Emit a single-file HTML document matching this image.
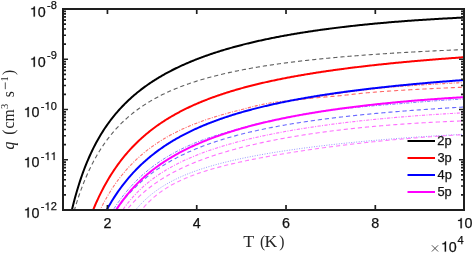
<!DOCTYPE html>
<html><head><meta charset="utf-8"><style>
html,body{margin:0;padding:0;background:#fff;}
body{width:473px;height:253px;overflow:hidden;}
svg{display:block;will-change:transform;}
.t{font-family:"Liberation Sans",sans-serif;fill:#111;stroke:#111;stroke-width:0.25px;}
.s{font-family:"Liberation Serif",serif;fill:#262626;}
</style></head><body>
<svg width="473" height="253" viewBox="0 0 473 253">
<defs><clipPath id="c"><rect x="63" y="9" width="401" height="201"/></clipPath></defs>
<rect width="473" height="253" fill="#fff"/>
<g clip-path="url(#c)" stroke-linecap="butt" stroke-linejoin="round">
<path d="M110.00,257.22 L111.00,254.50 L112.00,251.87 L113.00,249.33 L114.00,246.89 L115.00,244.54 L116.00,242.26 L117.00,240.07 L118.00,237.95 L119.00,235.90 L120.00,233.92 L121.00,232.00 L122.00,230.15 L123.00,228.36 L124.00,226.62 L125.00,224.94 L126.00,223.31 L127.00,221.74 L128.00,220.21 L129.00,218.72 L130.00,217.28 L131.00,215.89 L132.00,214.53 L133.00,213.21 L134.00,211.93 L135.00,210.69 L136.00,209.48 L137.00,208.31 L138.00,207.16 L139.00,206.05 L140.00,204.97 L141.00,203.92 L142.00,202.89 L143.00,201.89 L144.00,200.92 L145.00,199.97 L146.00,199.04 L147.00,198.14 L148.00,197.26 L149.00,196.40 L150.00,195.56 L151.00,194.74 L152.00,193.94 L153.00,193.15 L154.00,192.39 L155.00,191.64 L156.00,190.91 L157.00,190.20 L158.00,189.50 L159.00,188.82 L160.00,188.15 L161.00,187.49 L162.00,186.85 L163.00,186.22 L164.00,185.61 L165.00,185.01 L166.00,184.41 L167.00,183.84 L168.00,183.27 L169.00,182.71 L170.00,182.16 L171.00,181.63 L172.00,181.10 L173.00,180.59 L174.00,180.08 L175.00,179.58 L176.00,179.09 L177.00,178.61 L178.00,178.14 L179.00,177.68 L180.00,177.22 L181.00,176.77 L182.00,176.33 L183.00,175.90 L184.00,175.47 L185.00,175.05 L186.00,174.64 L187.00,174.23 L188.00,173.83 L189.00,173.43 L190.00,173.05 L191.00,172.66 L192.00,172.29 L193.00,171.92 L194.00,171.55 L195.00,171.19 L196.00,170.83 L197.00,170.48 L198.00,170.14 L199.00,169.80 L200.00,169.46 L201.00,169.13 L202.00,168.80 L203.00,168.48 L204.00,168.16 L205.00,167.84 L206.00,167.53 L207.00,167.23 L208.00,166.92 L209.00,166.62 L210.00,166.33 L211.00,166.04 L212.00,165.75 L213.00,165.46 L214.00,165.18 L215.00,164.90 L216.00,164.63 L217.00,164.36 L218.00,164.09 L219.00,163.82 L220.00,163.56 L221.00,163.30 L222.00,163.04 L223.00,162.78 L224.00,162.53 L225.00,162.28 L226.00,162.04 L227.00,161.79 L228.00,161.55 L229.00,161.31 L230.00,161.07 L231.00,160.84 L232.00,160.61 L233.00,160.38 L234.00,160.15 L235.00,159.92 L236.00,159.70 L237.00,159.48 L238.00,159.26 L239.00,159.04 L240.00,158.83 L241.00,158.62 L242.00,158.40 L243.00,158.19 L244.00,157.99 L245.00,157.78 L246.00,157.58 L247.00,157.37 L248.00,157.17 L249.00,156.98 L250.00,156.78 L251.00,156.58 L252.00,156.39 L253.00,156.20 L254.00,156.01 L255.00,155.82 L256.00,155.63 L257.00,155.44 L258.00,155.26 L259.00,155.08 L260.00,154.89 L261.00,154.71 L262.00,154.54 L263.00,154.36 L264.00,154.18 L265.00,154.01 L266.00,153.83 L267.00,153.66 L268.00,153.49 L269.00,153.32 L270.00,153.15 L271.00,152.99 L272.00,152.82 L273.00,152.65 L274.00,152.49 L275.00,152.33 L276.00,152.17 L277.00,152.01 L278.00,151.85 L279.00,151.69 L280.00,151.53 L281.00,151.38 L282.00,151.22 L283.00,151.07 L284.00,150.92 L285.00,150.77 L286.00,150.62 L287.00,150.47 L288.00,150.32 L289.00,150.17 L290.00,150.02 L291.00,149.88 L292.00,149.73 L293.00,149.59 L294.00,149.45 L295.00,149.31 L296.00,149.17 L297.00,149.03 L298.00,148.89 L299.00,148.75 L300.00,148.61 L301.00,148.47 L302.00,148.34 L303.00,148.20 L304.00,148.07 L305.00,147.94 L306.00,147.81 L307.00,147.67 L308.00,147.54 L309.00,147.41 L310.00,147.29 L311.00,147.16 L312.00,147.03 L313.00,146.90 L314.00,146.78 L315.00,146.65 L316.00,146.53 L317.00,146.40 L318.00,146.28 L319.00,146.16 L320.00,146.04 L321.00,145.92 L322.00,145.80 L323.00,145.68 L324.00,145.56 L325.00,145.44 L326.00,145.33 L327.00,145.21 L328.00,145.09 L329.00,144.98 L330.00,144.86 L331.00,144.75 L332.00,144.64 L333.00,144.53 L334.00,144.41 L335.00,144.30 L336.00,144.19 L337.00,144.08 L338.00,143.97 L339.00,143.87 L340.00,143.76 L341.00,143.65 L342.00,143.54 L343.00,143.44 L344.00,143.33 L345.00,143.23 L346.00,143.12 L347.00,143.02 L348.00,142.92 L349.00,142.81 L350.00,142.71 L351.00,142.61 L352.00,142.51 L353.00,142.41 L354.00,142.31 L355.00,142.21 L356.00,142.11 L357.00,142.02 L358.00,141.92 L359.00,141.82 L360.00,141.73 L361.00,141.63 L362.00,141.54 L363.00,141.44 L364.00,141.35 L365.00,141.25 L366.00,141.16 L367.00,141.07 L368.00,140.98 L369.00,140.88 L370.00,140.79 L371.00,140.70 L372.00,140.61 L373.00,140.52 L374.00,140.44 L375.00,140.35 L376.00,140.26 L377.00,140.17 L378.00,140.09 L379.00,140.00 L380.00,139.91 L381.00,139.83 L382.00,139.74 L383.00,139.66 L384.00,139.58 L385.00,139.49 L386.00,139.41 L387.00,139.33 L388.00,139.25 L389.00,139.16 L390.00,139.08 L391.00,139.00 L392.00,138.92 L393.00,138.84 L394.00,138.77 L395.00,138.69 L396.00,138.61 L397.00,138.53 L398.00,138.45 L399.00,138.38 L400.00,138.30 L401.00,138.22 L402.00,138.15 L403.00,138.07 L404.00,138.00 L405.00,137.93 L406.00,137.85 L407.00,137.78 L408.00,137.71 L409.00,137.63 L410.00,137.56 L411.00,137.49 L412.00,137.42 L413.00,137.35 L414.00,137.28 L415.00,137.21 L416.00,137.14 L417.00,137.07 L418.00,137.00 L419.00,136.93 L420.00,136.87 L421.00,136.80 L422.00,136.73 L423.00,136.67 L424.00,136.60 L425.00,136.53 L426.00,136.47 L427.00,136.40 L428.00,136.34 L429.00,136.28 L430.00,136.21 L431.00,136.15 L432.00,136.09 L433.00,136.02 L434.00,135.96 L435.00,135.90 L436.00,135.84 L437.00,135.78 L438.00,135.72 L439.00,135.66 L440.00,135.60 L441.00,135.54 L442.00,135.48 L443.00,135.42 L444.00,135.36 L445.00,135.30 L446.00,135.25 L447.00,135.19 L448.00,135.13 L449.00,135.08 L450.00,135.02 L451.00,134.96 L452.00,134.91 L453.00,134.85 L454.00,134.80 L455.00,134.75 L456.00,134.69 L457.00,134.64 L458.00,134.59 L459.00,134.53 L460.00,134.48 L461.00,134.43 L462.00,134.38 L463.00,134.33 L464.00,134.28 L465.00,134.22 L466.00,134.17" stroke="#9a9aff" stroke-width="1.0" fill="none" stroke-dasharray="1 1.5"/>
<path d="M117.00,257.40 L118.00,254.51 L119.00,251.74 L120.00,249.07 L121.00,246.50 L122.00,244.03 L123.00,241.65 L124.00,239.36 L125.00,237.15 L126.00,235.02 L127.00,232.97 L128.00,231.00 L129.00,229.09 L130.00,227.25 L131.00,225.47 L132.00,223.76 L133.00,222.10 L134.00,220.50 L135.00,218.95 L136.00,217.45 L137.00,216.00 L138.00,214.60 L139.00,213.24 L140.00,211.93 L141.00,210.65 L142.00,209.42 L143.00,208.22 L144.00,207.06 L145.00,205.94 L146.00,204.85 L147.00,203.79 L148.00,202.76 L149.00,201.76 L150.00,200.79 L151.00,199.84 L152.00,198.93 L153.00,198.03 L154.00,197.17 L155.00,196.32 L156.00,195.50 L157.00,194.70 L158.00,193.92 L159.00,193.16 L160.00,192.42 L161.00,191.69 L162.00,190.99 L163.00,190.30 L164.00,189.63 L165.00,188.98 L166.00,188.34 L167.00,187.71 L168.00,187.10 L169.00,186.50 L170.00,185.92 L171.00,185.35 L172.00,184.79 L173.00,184.24 L174.00,183.71 L175.00,183.18 L176.00,182.67 L177.00,182.17 L178.00,181.67 L179.00,181.19 L180.00,180.72 L181.00,180.25 L182.00,179.80 L183.00,179.35 L184.00,178.91 L185.00,178.48 L186.00,178.05 L187.00,177.64 L188.00,177.23 L189.00,176.83 L190.00,176.43 L191.00,176.04 L192.00,175.66 L193.00,175.28 L194.00,174.91 L195.00,174.54 L196.00,174.19 L197.00,173.83 L198.00,173.48 L199.00,173.14 L200.00,172.80 L201.00,172.47 L202.00,172.14 L203.00,171.81 L204.00,171.49 L205.00,171.17 L206.00,170.86 L207.00,170.55 L208.00,170.25 L209.00,169.95 L210.00,169.65 L211.00,169.36 L212.00,169.07 L213.00,168.78 L214.00,168.50 L215.00,168.22 L216.00,167.94 L217.00,167.67 L218.00,167.40 L219.00,167.13 L220.00,166.87 L221.00,166.60 L222.00,166.34 L223.00,166.09 L224.00,165.83 L225.00,165.58 L226.00,165.33 L227.00,165.08 L228.00,164.84 L229.00,164.60 L230.00,164.36 L231.00,164.12 L232.00,163.88 L233.00,163.65 L234.00,163.42 L235.00,163.19 L236.00,162.96 L237.00,162.73 L238.00,162.51 L239.00,162.29 L240.00,162.06 L241.00,161.85 L242.00,161.63 L243.00,161.41 L244.00,161.20 L245.00,160.99 L246.00,160.78 L247.00,160.57 L248.00,160.36 L249.00,160.15 L250.00,159.95 L251.00,159.74 L252.00,159.54 L253.00,159.34 L254.00,159.14 L255.00,158.94 L256.00,158.75 L257.00,158.55 L258.00,158.36 L259.00,158.16 L260.00,157.97 L261.00,157.78 L262.00,157.59 L263.00,157.40 L264.00,157.22 L265.00,157.03 L266.00,156.85 L267.00,156.66 L268.00,156.48 L269.00,156.30 L270.00,156.12 L271.00,155.94 L272.00,155.76 L273.00,155.58 L274.00,155.41 L275.00,155.23 L276.00,155.06 L277.00,154.88 L278.00,154.71 L279.00,154.54 L280.00,154.37 L281.00,154.20 L282.00,154.03 L283.00,153.86 L284.00,153.70 L285.00,153.53 L286.00,153.36 L287.00,153.20 L288.00,153.04 L289.00,152.87 L290.00,152.71 L291.00,152.55 L292.00,152.39 L293.00,152.23 L294.00,152.07 L295.00,151.92 L296.00,151.76 L297.00,151.60 L298.00,151.45 L299.00,151.29 L300.00,151.14 L301.00,150.99 L302.00,150.84 L303.00,150.69 L304.00,150.53 L305.00,150.39 L306.00,150.24 L307.00,150.09 L308.00,149.94 L309.00,149.79 L310.00,149.65 L311.00,149.50 L312.00,149.36 L313.00,149.21 L314.00,149.07 L315.00,148.93 L316.00,148.79 L317.00,148.65 L318.00,148.51 L319.00,148.37 L320.00,148.23 L321.00,148.09 L322.00,147.95 L323.00,147.81 L324.00,147.68 L325.00,147.54 L326.00,147.41 L327.00,147.27 L328.00,147.14 L329.00,147.01 L330.00,146.88 L331.00,146.75 L332.00,146.61 L333.00,146.48 L334.00,146.35 L335.00,146.23 L336.00,146.10 L337.00,145.97 L338.00,145.84 L339.00,145.72 L340.00,145.59 L341.00,145.47 L342.00,145.34 L343.00,145.22 L344.00,145.10 L345.00,144.97 L346.00,144.85 L347.00,144.73 L348.00,144.61 L349.00,144.49 L350.00,144.37 L351.00,144.25 L352.00,144.14 L353.00,144.02 L354.00,143.90 L355.00,143.79 L356.00,143.67 L357.00,143.56 L358.00,143.44 L359.00,143.33 L360.00,143.21 L361.00,143.10 L362.00,142.99 L363.00,142.88 L364.00,142.77 L365.00,142.66 L366.00,142.55 L367.00,142.44 L368.00,142.33 L369.00,142.23 L370.00,142.12 L371.00,142.01 L372.00,141.91 L373.00,141.80 L374.00,141.70 L375.00,141.59 L376.00,141.49 L377.00,141.39 L378.00,141.29 L379.00,141.18 L380.00,141.08 L381.00,140.98 L382.00,140.88 L383.00,140.78 L384.00,140.68 L385.00,140.59 L386.00,140.49 L387.00,140.39 L388.00,140.30 L389.00,140.20 L390.00,140.11 L391.00,140.01 L392.00,139.92 L393.00,139.82 L394.00,139.73 L395.00,139.64 L396.00,139.55 L397.00,139.46 L398.00,139.37 L399.00,139.28 L400.00,139.19 L401.00,139.10 L402.00,139.01 L403.00,138.92 L404.00,138.84 L405.00,138.75 L406.00,138.66 L407.00,138.58 L408.00,138.49 L409.00,138.41 L410.00,138.33 L411.00,138.24 L412.00,138.16 L413.00,138.08 L414.00,138.00 L415.00,137.92 L416.00,137.84 L417.00,137.76 L418.00,137.68 L419.00,137.60 L420.00,137.52 L421.00,137.44 L422.00,137.37 L423.00,137.29 L424.00,137.21 L425.00,137.14 L426.00,137.06 L427.00,136.99 L428.00,136.92 L429.00,136.84 L430.00,136.77 L431.00,136.70 L432.00,136.63 L433.00,136.56 L434.00,136.49 L435.00,136.42 L436.00,136.35 L437.00,136.28 L438.00,136.21 L439.00,136.14 L440.00,136.08 L441.00,136.01 L442.00,135.94 L443.00,135.88 L444.00,135.81 L445.00,135.75 L446.00,135.69 L447.00,135.62 L448.00,135.56 L449.00,135.50 L450.00,135.44 L451.00,135.38 L452.00,135.32 L453.00,135.26 L454.00,135.20 L455.00,135.14 L456.00,135.08 L457.00,135.02 L458.00,134.96 L459.00,134.91 L460.00,134.85 L461.00,134.80 L462.00,134.74 L463.00,134.69 L464.00,134.63 L465.00,134.58 L466.00,134.52" stroke="#ff80ff" stroke-width="1.1" fill="none" stroke-dasharray="4.2 2.9"/>
<path d="M101.00,257.42 L102.00,254.76 L103.00,252.19 L104.00,249.71 L105.00,247.32 L106.00,245.01 L107.00,242.77 L108.00,240.60 L109.00,238.51 L110.00,236.48 L111.00,234.51 L112.00,232.60 L113.00,230.75 L114.00,228.95 L115.00,227.21 L116.00,225.52 L117.00,223.87 L118.00,222.27 L119.00,220.72 L120.00,219.20 L121.00,217.73 L122.00,216.30 L123.00,214.90 L124.00,213.54 L125.00,212.21 L126.00,210.92 L127.00,209.66 L128.00,208.43 L129.00,207.23 L130.00,206.05 L131.00,204.91 L132.00,203.79 L133.00,202.69 L134.00,201.62 L135.00,200.58 L136.00,199.55 L137.00,198.55 L138.00,197.57 L139.00,196.61 L140.00,195.67 L141.00,194.75 L142.00,193.85 L143.00,192.96 L144.00,192.10 L145.00,191.25 L146.00,190.41 L147.00,189.59 L148.00,188.79 L149.00,188.00 L150.00,187.23 L151.00,186.47 L152.00,185.72 L153.00,184.99 L154.00,184.27 L155.00,183.56 L156.00,182.86 L157.00,182.18 L158.00,181.50 L159.00,180.84 L160.00,180.19 L161.00,179.55 L162.00,178.91 L163.00,178.29 L164.00,177.68 L165.00,177.08 L166.00,176.48 L167.00,175.90 L168.00,175.32 L169.00,174.75 L170.00,174.19 L171.00,173.64 L172.00,173.10 L173.00,172.56 L174.00,172.03 L175.00,171.51 L176.00,171.00 L177.00,170.49 L178.00,169.99 L179.00,169.50 L180.00,169.01 L181.00,168.53 L182.00,168.05 L183.00,167.58 L184.00,167.12 L185.00,166.66 L186.00,166.21 L187.00,165.76 L188.00,165.32 L189.00,164.89 L190.00,164.46 L191.00,164.03 L192.00,163.61 L193.00,163.20 L194.00,162.78 L195.00,162.38 L196.00,161.98 L197.00,161.58 L198.00,161.19 L199.00,160.80 L200.00,160.42 L201.00,160.04 L202.00,159.66 L203.00,159.29 L204.00,158.92 L205.00,158.56 L206.00,158.20 L207.00,157.84 L208.00,157.49 L209.00,157.14 L210.00,156.79 L211.00,156.45 L212.00,156.11 L213.00,155.78 L214.00,155.45 L215.00,155.12 L216.00,154.79 L217.00,154.47 L218.00,154.15 L219.00,153.84 L220.00,153.52 L221.00,153.21 L222.00,152.91 L223.00,152.60 L224.00,152.30 L225.00,152.00 L226.00,151.71 L227.00,151.42 L228.00,151.13 L229.00,150.84 L230.00,150.55 L231.00,150.27 L232.00,149.99 L233.00,149.71 L234.00,149.44 L235.00,149.17 L236.00,148.90 L237.00,148.63 L238.00,148.36 L239.00,148.10 L240.00,147.84 L241.00,147.58 L242.00,147.33 L243.00,147.07 L244.00,146.82 L245.00,146.57 L246.00,146.32 L247.00,146.08 L248.00,145.83 L249.00,145.59 L250.00,145.35 L251.00,145.11 L252.00,144.88 L253.00,144.65 L254.00,144.41 L255.00,144.18 L256.00,143.96 L257.00,143.73 L258.00,143.51 L259.00,143.28 L260.00,143.06 L261.00,142.84 L262.00,142.63 L263.00,142.41 L264.00,142.20 L265.00,141.99 L266.00,141.78 L267.00,141.57 L268.00,141.36 L269.00,141.15 L270.00,140.95 L271.00,140.75 L272.00,140.55 L273.00,140.35 L274.00,140.15 L275.00,139.96 L276.00,139.76 L277.00,139.57 L278.00,139.38 L279.00,139.19 L280.00,139.00 L281.00,138.81 L282.00,138.63 L283.00,138.44 L284.00,138.26 L285.00,138.08 L286.00,137.90 L287.00,137.72 L288.00,137.54 L289.00,137.37 L290.00,137.19 L291.00,137.02 L292.00,136.85 L293.00,136.68 L294.00,136.51 L295.00,136.34 L296.00,136.17 L297.00,136.01 L298.00,135.84 L299.00,135.68 L300.00,135.52 L301.00,135.36 L302.00,135.20 L303.00,135.04 L304.00,134.88 L305.00,134.73 L306.00,134.57 L307.00,134.42 L308.00,134.27 L309.00,134.12 L310.00,133.97 L311.00,133.82 L312.00,133.67 L313.00,133.52 L314.00,133.38 L315.00,133.23 L316.00,133.09 L317.00,132.95 L318.00,132.81 L319.00,132.67 L320.00,132.53 L321.00,132.39 L322.00,132.25 L323.00,132.12 L324.00,131.98 L325.00,131.85 L326.00,131.72 L327.00,131.58 L328.00,131.45 L329.00,131.32 L330.00,131.19 L331.00,131.07 L332.00,130.94 L333.00,130.81 L334.00,130.69 L335.00,130.56 L336.00,130.44 L337.00,130.32 L338.00,130.20 L339.00,130.08 L340.00,129.96 L341.00,129.84 L342.00,129.72 L343.00,129.61 L344.00,129.49 L345.00,129.38 L346.00,129.26 L347.00,129.15 L348.00,129.04 L349.00,128.93 L350.00,128.81 L351.00,128.70 L352.00,128.60 L353.00,128.49 L354.00,128.38 L355.00,128.28 L356.00,128.17 L357.00,128.07 L358.00,127.96 L359.00,127.86 L360.00,127.76 L361.00,127.66 L362.00,127.55 L363.00,127.46 L364.00,127.36 L365.00,127.26 L366.00,127.16 L367.00,127.06 L368.00,126.97 L369.00,126.87 L370.00,126.78 L371.00,126.69 L372.00,126.59 L373.00,126.50 L374.00,126.41 L375.00,126.32 L376.00,126.23 L377.00,126.14 L378.00,126.05 L379.00,125.97 L380.00,125.88 L381.00,125.79 L382.00,125.71 L383.00,125.62 L384.00,125.54 L385.00,125.46 L386.00,125.37 L387.00,125.29 L388.00,125.21 L389.00,125.13 L390.00,125.05 L391.00,124.97 L392.00,124.90 L393.00,124.82 L394.00,124.74 L395.00,124.66 L396.00,124.59 L397.00,124.51 L398.00,124.44 L399.00,124.37 L400.00,124.29 L401.00,124.22 L402.00,124.15 L403.00,124.08 L404.00,124.01 L405.00,123.94 L406.00,123.87 L407.00,123.80 L408.00,123.74 L409.00,123.67 L410.00,123.60 L411.00,123.54 L412.00,123.47 L413.00,123.41 L414.00,123.34 L415.00,123.28 L416.00,123.22 L417.00,123.16 L418.00,123.09 L419.00,123.03 L420.00,122.97 L421.00,122.91 L422.00,122.85 L423.00,122.80 L424.00,122.74 L425.00,122.68 L426.00,122.62 L427.00,122.57 L428.00,122.51 L429.00,122.46 L430.00,122.40 L431.00,122.35 L432.00,122.30 L433.00,122.24 L434.00,122.19 L435.00,122.14 L436.00,122.09 L437.00,122.04 L438.00,121.99 L439.00,121.94 L440.00,121.89 L441.00,121.84 L442.00,121.80 L443.00,121.75 L444.00,121.70 L445.00,121.66 L446.00,121.61 L447.00,121.57 L448.00,121.52 L449.00,121.48 L450.00,121.43 L451.00,121.39 L452.00,121.35 L453.00,121.31 L454.00,121.27 L455.00,121.23 L456.00,121.19 L457.00,121.15 L458.00,121.11 L459.00,121.07 L460.00,121.03 L461.00,120.99 L462.00,120.95 L463.00,120.92 L464.00,120.88 L465.00,120.85 L466.00,120.81" stroke="#ff70ff" stroke-width="1.1" fill="none" stroke-dasharray="4.2 2.9"/>
<path d="M99.00,259.43 L100.00,256.48 L101.00,253.62 L102.00,250.87 L103.00,248.21 L104.00,245.65 L105.00,243.17 L106.00,240.77 L107.00,238.45 L108.00,236.21 L109.00,234.03 L110.00,231.93 L111.00,229.89 L112.00,227.91 L113.00,225.99 L114.00,224.13 L115.00,222.32 L116.00,220.57 L117.00,218.86 L118.00,217.21 L119.00,215.60 L120.00,214.03 L121.00,212.50 L122.00,211.02 L123.00,209.57 L124.00,208.16 L125.00,206.79 L126.00,205.45 L127.00,204.14 L128.00,202.87 L129.00,201.63 L130.00,200.42 L131.00,199.23 L132.00,198.08 L133.00,196.95 L134.00,195.84 L135.00,194.76 L136.00,193.71 L137.00,192.67 L138.00,191.66 L139.00,190.67 L140.00,189.71 L141.00,188.76 L142.00,187.83 L143.00,186.92 L144.00,186.03 L145.00,185.15 L146.00,184.30 L147.00,183.46 L148.00,182.63 L149.00,181.82 L150.00,181.03 L151.00,180.25 L152.00,179.49 L153.00,178.74 L154.00,178.00 L155.00,177.27 L156.00,176.56 L157.00,175.86 L158.00,175.17 L159.00,174.50 L160.00,173.83 L161.00,173.18 L162.00,172.54 L163.00,171.90 L164.00,171.28 L165.00,170.67 L166.00,170.06 L167.00,169.47 L168.00,168.88 L169.00,168.31 L170.00,167.74 L171.00,167.18 L172.00,166.63 L173.00,166.08 L174.00,165.55 L175.00,165.02 L176.00,164.50 L177.00,163.99 L178.00,163.48 L179.00,162.98 L180.00,162.49 L181.00,162.00 L182.00,161.52 L183.00,161.05 L184.00,160.58 L185.00,160.12 L186.00,159.67 L187.00,159.22 L188.00,158.78 L189.00,158.34 L190.00,157.90 L191.00,157.48 L192.00,157.05 L193.00,156.64 L194.00,156.23 L195.00,155.82 L196.00,155.42 L197.00,155.02 L198.00,154.62 L199.00,154.23 L200.00,153.85 L201.00,153.47 L202.00,153.09 L203.00,152.72 L204.00,152.35 L205.00,151.99 L206.00,151.63 L207.00,151.28 L208.00,150.92 L209.00,150.57 L210.00,150.23 L211.00,149.89 L212.00,149.55 L213.00,149.22 L214.00,148.89 L215.00,148.56 L216.00,148.23 L217.00,147.91 L218.00,147.59 L219.00,147.28 L220.00,146.97 L221.00,146.66 L222.00,146.35 L223.00,146.05 L224.00,145.75 L225.00,145.45 L226.00,145.16 L227.00,144.87 L228.00,144.58 L229.00,144.29 L230.00,144.01 L231.00,143.73 L232.00,143.45 L233.00,143.17 L234.00,142.90 L235.00,142.63 L236.00,142.36 L237.00,142.09 L238.00,141.83 L239.00,141.57 L240.00,141.31 L241.00,141.05 L242.00,140.80 L243.00,140.54 L244.00,140.29 L245.00,140.05 L246.00,139.80 L247.00,139.55 L248.00,139.31 L249.00,139.07 L250.00,138.83 L251.00,138.60 L252.00,138.36 L253.00,138.13 L254.00,137.90 L255.00,137.67 L256.00,137.44 L257.00,137.22 L258.00,136.99 L259.00,136.77 L260.00,136.55 L261.00,136.33 L262.00,136.12 L263.00,135.90 L264.00,135.69 L265.00,135.48 L266.00,135.27 L267.00,135.06 L268.00,134.85 L269.00,134.65 L270.00,134.44 L271.00,134.24 L272.00,134.04 L273.00,133.84 L274.00,133.64 L275.00,133.45 L276.00,133.25 L277.00,133.06 L278.00,132.87 L279.00,132.68 L280.00,132.49 L281.00,132.30 L282.00,132.12 L283.00,131.93 L284.00,131.75 L285.00,131.56 L286.00,131.38 L287.00,131.20 L288.00,131.03 L289.00,130.85 L290.00,130.67 L291.00,130.50 L292.00,130.32 L293.00,130.15 L294.00,129.98 L295.00,129.81 L296.00,129.64 L297.00,129.48 L298.00,129.31 L299.00,129.14 L300.00,128.98 L301.00,128.82 L302.00,128.66 L303.00,128.50 L304.00,128.34 L305.00,128.18 L306.00,128.02 L307.00,127.86 L308.00,127.71 L309.00,127.55 L310.00,127.40 L311.00,127.25 L312.00,127.10 L313.00,126.95 L314.00,126.80 L315.00,126.65 L316.00,126.51 L317.00,126.36 L318.00,126.21 L319.00,126.07 L320.00,125.93 L321.00,125.79 L322.00,125.64 L323.00,125.50 L324.00,125.37 L325.00,125.23 L326.00,125.09 L327.00,124.95 L328.00,124.82 L329.00,124.68 L330.00,124.55 L331.00,124.42 L332.00,124.28 L333.00,124.15 L334.00,124.02 L335.00,123.89 L336.00,123.77 L337.00,123.64 L338.00,123.51 L339.00,123.39 L340.00,123.26 L341.00,123.14 L342.00,123.01 L343.00,122.89 L344.00,122.77 L345.00,122.65 L346.00,122.53 L347.00,122.41 L348.00,122.29 L349.00,122.17 L350.00,122.05 L351.00,121.94 L352.00,121.82 L353.00,121.71 L354.00,121.59 L355.00,121.48 L356.00,121.37 L357.00,121.25 L358.00,121.14 L359.00,121.03 L360.00,120.92 L361.00,120.81 L362.00,120.71 L363.00,120.60 L364.00,120.49 L365.00,120.39 L366.00,120.28 L367.00,120.18 L368.00,120.07 L369.00,119.97 L370.00,119.87 L371.00,119.76 L372.00,119.66 L373.00,119.56 L374.00,119.46 L375.00,119.36 L376.00,119.26 L377.00,119.16 L378.00,119.07 L379.00,118.97 L380.00,118.87 L381.00,118.78 L382.00,118.68 L383.00,118.59 L384.00,118.50 L385.00,118.40 L386.00,118.31 L387.00,118.22 L388.00,118.13 L389.00,118.04 L390.00,117.95 L391.00,117.86 L392.00,117.77 L393.00,117.68 L394.00,117.59 L395.00,117.51 L396.00,117.42 L397.00,117.33 L398.00,117.25 L399.00,117.16 L400.00,117.08 L401.00,117.00 L402.00,116.91 L403.00,116.83 L404.00,116.75 L405.00,116.67 L406.00,116.59 L407.00,116.51 L408.00,116.43 L409.00,116.35 L410.00,116.27 L411.00,116.19 L412.00,116.12 L413.00,116.04 L414.00,115.96 L415.00,115.89 L416.00,115.81 L417.00,115.74 L418.00,115.66 L419.00,115.59 L420.00,115.51 L421.00,115.44 L422.00,115.37 L423.00,115.30 L424.00,115.23 L425.00,115.16 L426.00,115.09 L427.00,115.02 L428.00,114.95 L429.00,114.88 L430.00,114.81 L431.00,114.74 L432.00,114.68 L433.00,114.61 L434.00,114.54 L435.00,114.48 L436.00,114.41 L437.00,114.35 L438.00,114.28 L439.00,114.22 L440.00,114.15 L441.00,114.09 L442.00,114.03 L443.00,113.97 L444.00,113.91 L445.00,113.84 L446.00,113.78 L447.00,113.72 L448.00,113.66 L449.00,113.60 L450.00,113.55 L451.00,113.49 L452.00,113.43 L453.00,113.37 L454.00,113.31 L455.00,113.26 L456.00,113.20 L457.00,113.15 L458.00,113.09 L459.00,113.04 L460.00,112.98 L461.00,112.93 L462.00,112.87 L463.00,112.82 L464.00,112.77 L465.00,112.71 L466.00,112.66" stroke="#ff70ff" stroke-width="1.1" fill="none" stroke-dasharray="3.2 1.4 1 1.4"/>
<path d="M90.00,259.82 L91.00,257.22 L92.00,254.69 L93.00,252.24 L94.00,249.84 L95.00,247.51 L96.00,245.25 L97.00,243.04 L98.00,240.88 L99.00,238.78 L100.00,236.74 L101.00,234.74 L102.00,232.79 L103.00,230.89 L104.00,229.03 L105.00,227.22 L106.00,225.45 L107.00,223.72 L108.00,222.03 L109.00,220.38 L110.00,218.76 L111.00,217.18 L112.00,215.63 L113.00,214.12 L114.00,212.64 L115.00,211.19 L116.00,209.77 L117.00,208.38 L118.00,207.02 L119.00,205.69 L120.00,204.38 L121.00,203.10 L122.00,201.84 L123.00,200.61 L124.00,199.40 L125.00,198.22 L126.00,197.06 L127.00,195.92 L128.00,194.80 L129.00,193.70 L130.00,192.62 L131.00,191.56 L132.00,190.53 L133.00,189.50 L134.00,188.50 L135.00,187.52 L136.00,186.55 L137.00,185.60 L138.00,184.66 L139.00,183.74 L140.00,182.84 L141.00,181.95 L142.00,181.08 L143.00,180.22 L144.00,179.38 L145.00,178.54 L146.00,177.73 L147.00,176.92 L148.00,176.13 L149.00,175.35 L150.00,174.58 L151.00,173.83 L152.00,173.08 L153.00,172.35 L154.00,171.63 L155.00,170.92 L156.00,170.22 L157.00,169.53 L158.00,168.85 L159.00,168.18 L160.00,167.52 L161.00,166.87 L162.00,166.23 L163.00,165.60 L164.00,164.98 L165.00,164.36 L166.00,163.76 L167.00,163.16 L168.00,162.57 L169.00,161.99 L170.00,161.42 L171.00,160.85 L172.00,160.29 L173.00,159.74 L174.00,159.20 L175.00,158.67 L176.00,158.14 L177.00,157.62 L178.00,157.10 L179.00,156.59 L180.00,156.09 L181.00,155.60 L182.00,155.11 L183.00,154.63 L184.00,154.15 L185.00,153.68 L186.00,153.21 L187.00,152.75 L188.00,152.30 L189.00,151.85 L190.00,151.41 L191.00,150.97 L192.00,150.54 L193.00,150.11 L194.00,149.69 L195.00,149.27 L196.00,148.86 L197.00,148.46 L198.00,148.05 L199.00,147.66 L200.00,147.26 L201.00,146.87 L202.00,146.49 L203.00,146.11 L204.00,145.73 L205.00,145.36 L206.00,144.99 L207.00,144.63 L208.00,144.27 L209.00,143.92 L210.00,143.56 L211.00,143.22 L212.00,142.87 L213.00,142.53 L214.00,142.19 L215.00,141.86 L216.00,141.53 L217.00,141.21 L218.00,140.88 L219.00,140.56 L220.00,140.25 L221.00,139.93 L222.00,139.63 L223.00,139.32 L224.00,139.02 L225.00,138.72 L226.00,138.42 L227.00,138.12 L228.00,137.83 L229.00,137.54 L230.00,137.26 L231.00,136.98 L232.00,136.70 L233.00,136.42 L234.00,136.14 L235.00,135.87 L236.00,135.60 L237.00,135.34 L238.00,135.07 L239.00,134.81 L240.00,134.55 L241.00,134.30 L242.00,134.04 L243.00,133.79 L244.00,133.54 L245.00,133.29 L246.00,133.05 L247.00,132.81 L248.00,132.57 L249.00,132.33 L250.00,132.09 L251.00,131.86 L252.00,131.63 L253.00,131.40 L254.00,131.17 L255.00,130.94 L256.00,130.72 L257.00,130.50 L258.00,130.28 L259.00,130.06 L260.00,129.85 L261.00,129.63 L262.00,129.42 L263.00,129.21 L264.00,129.00 L265.00,128.79 L266.00,128.59 L267.00,128.39 L268.00,128.19 L269.00,127.99 L270.00,127.79 L271.00,127.59 L272.00,127.40 L273.00,127.20 L274.00,127.01 L275.00,126.82 L276.00,126.63 L277.00,126.45 L278.00,126.26 L279.00,126.08 L280.00,125.90 L281.00,125.72 L282.00,125.54 L283.00,125.36 L284.00,125.18 L285.00,125.01 L286.00,124.83 L287.00,124.66 L288.00,124.49 L289.00,124.32 L290.00,124.15 L291.00,123.99 L292.00,123.82 L293.00,123.66 L294.00,123.49 L295.00,123.33 L296.00,123.17 L297.00,123.01 L298.00,122.85 L299.00,122.70 L300.00,122.54 L301.00,122.39 L302.00,122.23 L303.00,122.08 L304.00,121.93 L305.00,121.78 L306.00,121.63 L307.00,121.48 L308.00,121.34 L309.00,121.19 L310.00,121.05 L311.00,120.90 L312.00,120.76 L313.00,120.62 L314.00,120.48 L315.00,120.34 L316.00,120.20 L317.00,120.06 L318.00,119.93 L319.00,119.79 L320.00,119.66 L321.00,119.52 L322.00,119.39 L323.00,119.26 L324.00,119.13 L325.00,119.00 L326.00,118.87 L327.00,118.74 L328.00,118.62 L329.00,118.49 L330.00,118.37 L331.00,118.24 L332.00,118.12 L333.00,117.99 L334.00,117.87 L335.00,117.75 L336.00,117.63 L337.00,117.51 L338.00,117.39 L339.00,117.28 L340.00,117.16 L341.00,117.04 L342.00,116.93 L343.00,116.81 L344.00,116.70 L345.00,116.59 L346.00,116.47 L347.00,116.36 L348.00,116.25 L349.00,116.14 L350.00,116.03 L351.00,115.92 L352.00,115.81 L353.00,115.71 L354.00,115.60 L355.00,115.49 L356.00,115.39 L357.00,115.28 L358.00,115.18 L359.00,115.08 L360.00,114.97 L361.00,114.87 L362.00,114.77 L363.00,114.67 L364.00,114.57 L365.00,114.47 L366.00,114.37 L367.00,114.27 L368.00,114.18 L369.00,114.08 L370.00,113.98 L371.00,113.89 L372.00,113.79 L373.00,113.70 L374.00,113.60 L375.00,113.51 L376.00,113.42 L377.00,113.33 L378.00,113.23 L379.00,113.14 L380.00,113.05 L381.00,112.96 L382.00,112.87 L383.00,112.78 L384.00,112.69 L385.00,112.61 L386.00,112.52 L387.00,112.43 L388.00,112.35 L389.00,112.26 L390.00,112.17 L391.00,112.09 L392.00,112.01 L393.00,111.92 L394.00,111.84 L395.00,111.76 L396.00,111.67 L397.00,111.59 L398.00,111.51 L399.00,111.43 L400.00,111.35 L401.00,111.27 L402.00,111.19 L403.00,111.11 L404.00,111.03 L405.00,110.95 L406.00,110.87 L407.00,110.80 L408.00,110.72 L409.00,110.64 L410.00,110.57 L411.00,110.49 L412.00,110.42 L413.00,110.34 L414.00,110.27 L415.00,110.19 L416.00,110.12 L417.00,110.05 L418.00,109.97 L419.00,109.90 L420.00,109.83 L421.00,109.76 L422.00,109.69 L423.00,109.62 L424.00,109.55 L425.00,109.48 L426.00,109.41 L427.00,109.34 L428.00,109.27 L429.00,109.20 L430.00,109.13 L431.00,109.06 L432.00,109.00 L433.00,108.93 L434.00,108.86 L435.00,108.80 L436.00,108.73 L437.00,108.66 L438.00,108.60 L439.00,108.53 L440.00,108.47 L441.00,108.41 L442.00,108.34 L443.00,108.28 L444.00,108.21 L445.00,108.15 L446.00,108.09 L447.00,108.03 L448.00,107.96 L449.00,107.90 L450.00,107.84 L451.00,107.78 L452.00,107.72 L453.00,107.66 L454.00,107.60 L455.00,107.54 L456.00,107.48 L457.00,107.42 L458.00,107.36 L459.00,107.30 L460.00,107.25 L461.00,107.19 L462.00,107.13 L463.00,107.07 L464.00,107.02 L465.00,106.96 L466.00,106.90" stroke="#6a6aff" stroke-width="1.1" fill="none" stroke-dasharray="4.2 2.9"/>
<path d="M63.00,259.32 L64.00,254.01 L65.00,248.92 L66.00,244.06 L67.00,239.39 L68.00,234.92 L69.00,230.62 L70.00,226.50 L71.00,222.53 L72.00,218.71 L73.00,215.03 L74.00,211.49 L75.00,208.07 L76.00,204.77 L77.00,201.59 L78.00,198.52 L79.00,195.54 L80.00,192.67 L81.00,189.89 L82.00,187.20 L83.00,184.59 L84.00,182.06 L85.00,179.62 L86.00,177.24 L87.00,174.93 L88.00,172.70 L89.00,170.52 L90.00,168.41 L91.00,166.36 L92.00,164.36 L93.00,162.42 L94.00,160.54 L95.00,158.70 L96.00,156.91 L97.00,155.16 L98.00,153.47 L99.00,151.81 L100.00,150.20 L101.00,148.62 L102.00,147.09 L103.00,145.59 L104.00,144.12 L105.00,142.70 L106.00,141.30 L107.00,139.94 L108.00,138.61 L109.00,137.31 L110.00,136.03 L111.00,134.79 L112.00,133.57 L113.00,132.38 L114.00,131.22 L115.00,130.08 L116.00,128.96 L117.00,127.87 L118.00,126.80 L119.00,125.75 L120.00,124.73 L121.00,123.72 L122.00,122.73 L123.00,121.77 L124.00,120.82 L125.00,119.89 L126.00,118.98 L127.00,118.08 L128.00,117.21 L129.00,116.34 L130.00,115.50 L131.00,114.67 L132.00,113.85 L133.00,113.05 L134.00,112.27 L135.00,111.50 L136.00,110.74 L137.00,109.99 L138.00,109.26 L139.00,108.54 L140.00,107.84 L141.00,107.14 L142.00,106.46 L143.00,105.78 L144.00,105.12 L145.00,104.47 L146.00,103.83 L147.00,103.20 L148.00,102.58 L149.00,101.98 L150.00,101.38 L151.00,100.79 L152.00,100.20 L153.00,99.63 L154.00,99.07 L155.00,98.51 L156.00,97.97 L157.00,97.43 L158.00,96.90 L159.00,96.38 L160.00,95.86 L161.00,95.36 L162.00,94.86 L163.00,94.36 L164.00,93.88 L165.00,93.40 L166.00,92.93 L167.00,92.46 L168.00,92.00 L169.00,91.55 L170.00,91.11 L171.00,90.67 L172.00,90.23 L173.00,89.81 L174.00,89.38 L175.00,88.97 L176.00,88.56 L177.00,88.15 L178.00,87.75 L179.00,87.36 L180.00,86.97 L181.00,86.58 L182.00,86.20 L183.00,85.83 L184.00,85.46 L185.00,85.09 L186.00,84.73 L187.00,84.37 L188.00,84.02 L189.00,83.67 L190.00,83.33 L191.00,82.99 L192.00,82.66 L193.00,82.33 L194.00,82.00 L195.00,81.68 L196.00,81.36 L197.00,81.04 L198.00,80.73 L199.00,80.42 L200.00,80.12 L201.00,79.82 L202.00,79.52 L203.00,79.22 L204.00,78.93 L205.00,78.65 L206.00,78.36 L207.00,78.08 L208.00,77.80 L209.00,77.53 L210.00,77.26 L211.00,76.99 L212.00,76.72 L213.00,76.46 L214.00,76.20 L215.00,75.94 L216.00,75.69 L217.00,75.44 L218.00,75.19 L219.00,74.94 L220.00,74.70 L221.00,74.46 L222.00,74.22 L223.00,73.98 L224.00,73.75 L225.00,73.52 L226.00,73.29 L227.00,73.06 L228.00,72.84 L229.00,72.62 L230.00,72.40 L231.00,72.18 L232.00,71.96 L233.00,71.75 L234.00,71.54 L235.00,71.33 L236.00,71.12 L237.00,70.92 L238.00,70.72 L239.00,70.51 L240.00,70.32 L241.00,70.12 L242.00,69.92 L243.00,69.73 L244.00,69.54 L245.00,69.35 L246.00,69.16 L247.00,68.98 L248.00,68.79 L249.00,68.61 L250.00,68.43 L251.00,68.25 L252.00,68.07 L253.00,67.90 L254.00,67.72 L255.00,67.55 L256.00,67.38 L257.00,67.21 L258.00,67.04 L259.00,66.87 L260.00,66.71 L261.00,66.55 L262.00,66.38 L263.00,66.22 L264.00,66.06 L265.00,65.91 L266.00,65.75 L267.00,65.59 L268.00,65.44 L269.00,65.29 L270.00,65.14 L271.00,64.99 L272.00,64.84 L273.00,64.69 L274.00,64.54 L275.00,64.40 L276.00,64.26 L277.00,64.11 L278.00,63.97 L279.00,63.83 L280.00,63.69 L281.00,63.56 L282.00,63.42 L283.00,63.29 L284.00,63.15 L285.00,63.02 L286.00,62.89 L287.00,62.75 L288.00,62.62 L289.00,62.50 L290.00,62.37 L291.00,62.24 L292.00,62.12 L293.00,61.99 L294.00,61.87 L295.00,61.74 L296.00,61.62 L297.00,61.50 L298.00,61.38 L299.00,61.26 L300.00,61.14 L301.00,61.03 L302.00,60.91 L303.00,60.80 L304.00,60.68 L305.00,60.57 L306.00,60.46 L307.00,60.34 L308.00,60.23 L309.00,60.12 L310.00,60.01 L311.00,59.90 L312.00,59.80 L313.00,59.69 L314.00,59.58 L315.00,59.48 L316.00,59.37 L317.00,59.27 L318.00,59.17 L319.00,59.07 L320.00,58.96 L321.00,58.86 L322.00,58.76 L323.00,58.66 L324.00,58.57 L325.00,58.47 L326.00,58.37 L327.00,58.27 L328.00,58.18 L329.00,58.08 L330.00,57.99 L331.00,57.90 L332.00,57.80 L333.00,57.71 L334.00,57.62 L335.00,57.53 L336.00,57.44 L337.00,57.35 L338.00,57.26 L339.00,57.17 L340.00,57.08 L341.00,56.99 L342.00,56.91 L343.00,56.82 L344.00,56.74 L345.00,56.65 L346.00,56.57 L347.00,56.48 L348.00,56.40 L349.00,56.32 L350.00,56.23 L351.00,56.15 L352.00,56.07 L353.00,55.99 L354.00,55.91 L355.00,55.83 L356.00,55.75 L357.00,55.68 L358.00,55.60 L359.00,55.52 L360.00,55.44 L361.00,55.37 L362.00,55.29 L363.00,55.22 L364.00,55.14 L365.00,55.07 L366.00,54.99 L367.00,54.92 L368.00,54.85 L369.00,54.78 L370.00,54.70 L371.00,54.63 L372.00,54.56 L373.00,54.49 L374.00,54.42 L375.00,54.35 L376.00,54.28 L377.00,54.21 L378.00,54.14 L379.00,54.08 L380.00,54.01 L381.00,53.94 L382.00,53.88 L383.00,53.81 L384.00,53.74 L385.00,53.68 L386.00,53.61 L387.00,53.55 L388.00,53.48 L389.00,53.42 L390.00,53.36 L391.00,53.29 L392.00,53.23 L393.00,53.17 L394.00,53.11 L395.00,53.05 L396.00,52.98 L397.00,52.92 L398.00,52.86 L399.00,52.80 L400.00,52.74 L401.00,52.68 L402.00,52.63 L403.00,52.57 L404.00,52.51 L405.00,52.45 L406.00,52.39 L407.00,52.34 L408.00,52.28 L409.00,52.22 L410.00,52.17 L411.00,52.11 L412.00,52.05 L413.00,52.00 L414.00,51.94 L415.00,51.89 L416.00,51.84 L417.00,51.78 L418.00,51.73 L419.00,51.67 L420.00,51.62 L421.00,51.57 L422.00,51.52 L423.00,51.46 L424.00,51.41 L425.00,51.36 L426.00,51.31 L427.00,51.26 L428.00,51.21 L429.00,51.16 L430.00,51.11 L431.00,51.06 L432.00,51.01 L433.00,50.96 L434.00,50.91 L435.00,50.86 L436.00,50.81 L437.00,50.76 L438.00,50.72 L439.00,50.67 L440.00,50.62 L441.00,50.57 L442.00,50.53 L443.00,50.48 L444.00,50.43 L445.00,50.39 L446.00,50.34 L447.00,50.30 L448.00,50.25 L449.00,50.21 L450.00,50.16 L451.00,50.12 L452.00,50.07 L453.00,50.03 L454.00,49.98 L455.00,49.94 L456.00,49.90 L457.00,49.85 L458.00,49.81 L459.00,49.77 L460.00,49.73 L461.00,49.68 L462.00,49.64 L463.00,49.60 L464.00,49.56 L465.00,49.52 L466.00,49.48" stroke="#606060" stroke-width="1.1" fill="none" stroke-dasharray="4.2 2.9"/>
<path d="M288.00,100.74 L289.00,100.63 L290.00,100.53 L291.00,100.42 L292.00,100.31 L293.00,100.20 L294.00,100.10 L295.00,99.99 L296.00,99.88 L297.00,99.77 L298.00,99.66 L299.00,99.55 L300.00,99.44 L301.00,99.33 L302.00,99.22 L303.00,99.11 L304.00,99.00 L305.00,98.89 L306.00,98.79 L307.00,98.68 L308.00,98.58 L309.00,98.47 L310.00,98.37 L311.00,98.27 L312.00,98.17 L313.00,98.07 L314.00,97.98 L315.00,97.89 L316.00,97.79 L317.00,97.70 L318.00,97.62 L319.00,97.53 L320.00,97.44 L321.00,97.36 L322.00,97.28 L323.00,97.19 L324.00,97.11 L325.00,97.03 L326.00,96.95 L327.00,96.87 L328.00,96.79 L329.00,96.70 L330.00,96.62 L331.00,96.54 L332.00,96.45 L333.00,96.36 L334.00,96.28 L335.00,96.19 L336.00,96.09 L337.00,96.00 L338.00,95.90 L339.00,95.80 L340.00,95.70 L341.00,95.60 L342.00,95.50 L343.00,95.39 L344.00,95.28 L345.00,95.17 L346.00,95.06 L347.00,94.95 L348.00,94.83 L349.00,94.72 L350.00,94.61 L351.00,94.49 L352.00,94.38 L353.00,94.26 L354.00,94.15 L355.00,94.04 L356.00,93.92 L357.00,93.81 L358.00,93.70 L359.00,93.60 L360.00,93.49 L361.00,93.38 L362.00,93.28 L363.00,93.18 L364.00,93.08 L365.00,92.98 L366.00,92.89 L367.00,92.79 L368.00,92.70 L369.00,92.61 L370.00,92.52 L371.00,92.44 L372.00,92.35 L373.00,92.27 L374.00,92.18 L375.00,92.10 L376.00,92.02 L377.00,91.95 L378.00,91.87 L379.00,91.79 L380.00,91.72 L381.00,91.64 L382.00,91.57 L383.00,91.50 L384.00,91.43 L385.00,91.36 L386.00,91.29 L387.00,91.22 L388.00,91.15 L389.00,91.08 L390.00,91.02 L391.00,90.95 L392.00,90.88 L393.00,90.82 L394.00,90.75 L395.00,90.69 L396.00,90.63 L397.00,90.56 L398.00,90.50 L399.00,90.44 L400.00,90.37 L401.00,90.31 L402.00,90.25 L403.00,90.19 L404.00,90.13 L405.00,90.07 L406.00,90.01 L407.00,89.95 L408.00,89.89 L409.00,89.84 L410.00,89.78 L411.00,89.72 L412.00,89.66 L413.00,89.61 L414.00,89.55 L415.00,89.50 L416.00,89.44 L417.00,89.38 L418.00,89.33 L419.00,89.28 L420.00,89.22 L421.00,89.17 L422.00,89.12 L423.00,89.06 L424.00,89.01 L425.00,88.96 L426.00,88.91 L427.00,88.85 L428.00,88.80 L429.00,88.75 L430.00,88.70 L431.00,88.65 L432.00,88.60 L433.00,88.55 L434.00,88.50 L435.00,88.45 L436.00,88.41 L437.00,88.36 L438.00,88.31 L439.00,88.26 L440.00,88.22 L441.00,88.17 L442.00,88.12 L443.00,88.08 L444.00,88.03 L445.00,87.98 L446.00,87.94 L447.00,87.89 L448.00,87.85 L449.00,87.80 L450.00,87.76 L451.00,87.72 L452.00,87.67 L453.00,87.63 L454.00,87.59 L455.00,87.54 L456.00,87.50 L457.00,87.46 L458.00,87.42 L459.00,87.38 L460.00,87.33 L461.00,87.29 L462.00,87.25 L463.00,87.21 L464.00,87.17 L465.00,87.13 L466.00,87.09" stroke="#ff6a6a" stroke-width="1.1" fill="none" stroke-dasharray="4.2 2.9"/>
<path d="M82.00,257.77 L83.00,254.39 L84.00,251.13 L85.00,247.96 L86.00,244.89 L87.00,241.91 L88.00,239.02 L89.00,236.21 L90.00,233.49 L91.00,230.84 L92.00,228.27 L93.00,225.77 L94.00,223.34 L95.00,220.98 L96.00,218.67 L97.00,216.43 L98.00,214.25 L99.00,212.12 L100.00,210.05 L101.00,208.03 L102.00,206.06 L103.00,204.14 L104.00,202.27 L105.00,200.44 L106.00,198.66 L107.00,196.92 L108.00,195.21 L109.00,193.55 L110.00,191.93 L111.00,190.34 L112.00,188.79 L113.00,187.27 L114.00,185.79 L115.00,184.34 L116.00,182.92 L117.00,181.53 L118.00,180.17 L119.00,178.84 L120.00,177.53 L121.00,176.25 L122.00,175.00 L123.00,173.78 L124.00,172.58 L125.00,171.40 L126.00,170.24 L127.00,169.11 L128.00,168.00 L129.00,166.91 L130.00,165.85 L131.00,164.80 L132.00,163.77 L133.00,162.76 L134.00,161.77 L135.00,160.80 L136.00,159.85 L137.00,158.91 L138.00,157.99 L139.00,157.08 L140.00,156.20 L141.00,155.32 L142.00,154.46 L143.00,153.62 L144.00,152.79 L145.00,151.98 L146.00,151.18 L147.00,150.39 L148.00,149.62 L149.00,148.85 L150.00,148.11 L151.00,147.37 L152.00,146.64 L153.00,145.93 L154.00,145.23 L155.00,144.54 L156.00,143.86 L157.00,143.19 L158.00,142.53 L159.00,141.88 L160.00,141.24 L161.00,140.61 L162.00,139.99 L163.00,139.38 L164.00,138.78 L165.00,138.19 L166.00,137.60 L167.00,137.03 L168.00,136.46 L169.00,135.90 L170.00,135.35 L171.00,134.81 L172.00,134.27 L173.00,133.75 L174.00,133.23 L175.00,132.71 L176.00,132.21 L177.00,131.71 L178.00,131.22 L179.00,130.73 L180.00,130.26 L181.00,129.78 L182.00,129.32 L183.00,128.86 L184.00,128.41 L185.00,127.96 L186.00,127.52 L187.00,127.08 L188.00,126.65 L189.00,126.23 L190.00,125.81 L191.00,125.39 L192.00,124.99 L193.00,124.58 L194.00,124.19 L195.00,123.79 L196.00,123.40 L197.00,123.02 L198.00,122.64 L199.00,122.27 L200.00,121.90 L201.00,121.54 L202.00,121.18 L203.00,120.82 L204.00,120.47 L205.00,120.12 L206.00,119.78 L207.00,119.44 L208.00,119.10 L209.00,118.77 L210.00,118.44 L211.00,118.12 L212.00,117.80 L213.00,117.48 L214.00,117.17 L215.00,116.86 L216.00,116.55 L217.00,116.25 L218.00,115.95 L219.00,115.66 L220.00,115.36 L221.00,115.07 L222.00,114.78 L223.00,114.50 L224.00,114.22 L225.00,113.94 L226.00,113.66 L227.00,113.38 L228.00,113.11 L229.00,112.84 L230.00,112.57 L231.00,112.30 L232.00,112.04 L233.00,111.77 L234.00,111.51 L235.00,111.24 L236.00,110.98 L237.00,110.72 L238.00,110.46 L239.00,110.20 L240.00,109.94 L241.00,109.68 L242.00,109.43 L243.00,109.17 L244.00,108.91 L245.00,108.65 L246.00,108.40 L247.00,108.14 L248.00,107.88 L249.00,107.63 L250.00,107.38 L251.00,107.12 L252.00,106.87 L253.00,106.62 L254.00,106.38 L255.00,106.13 L256.00,105.89 L257.00,105.65 L258.00,105.42 L259.00,105.19 L260.00,104.97 L261.00,104.74 L262.00,104.53 L263.00,104.32 L264.00,104.11 L265.00,103.92 L266.00,103.72 L267.00,103.54 L268.00,103.36 L269.00,103.18 L270.00,103.01 L271.00,102.85 L272.00,102.70 L273.00,102.55 L274.00,102.40 L275.00,102.26 L276.00,102.13 L277.00,102.00 L278.00,101.87 L279.00,101.75 L280.00,101.63 L281.00,101.51 L282.00,101.40 L283.00,101.29 L284.00,101.19 L285.00,101.08 L286.00,100.98 L287.00,100.88 L288.00,100.78 L289.00,100.68 L290.00,100.57 L291.00,100.47 L292.00,100.37 L293.00,100.26 L294.00,100.15 L295.00,100.04 L296.00,99.93 L297.00,99.81 L298.00,99.69 L299.00,99.57 L300.00,99.45 L301.00,99.33 L302.00,99.20 L303.00,99.07 L304.00,98.94 L305.00,98.81 L306.00,98.68 L307.00,98.54 L308.00,98.40 L309.00,98.26 L310.00,98.12 L311.00,97.98 L312.00,97.84 L313.00,97.69 L314.00,97.55 L315.00,97.40 L316.00,97.25 L317.00,97.10 L318.00,96.94 L319.00,96.79 L320.00,96.63 L321.00,96.47 L322.00,96.31 L323.00,96.15 L324.00,95.99 L325.00,95.82 L326.00,95.66 L327.00,95.49 L328.00,95.32 L329.00,95.15 L330.00,94.98 L331.00,94.81 L332.00,94.63 L333.00,94.46 L334.00,94.29 L335.00,94.12 L336.00,93.95 L337.00,93.78 L338.00,93.61 L339.00,93.44 L340.00,93.27 L341.00,93.11 L342.00,92.95 L343.00,92.79 L344.00,92.64 L345.00,92.48 L346.00,92.34 L347.00,92.19 L348.00,92.05 L349.00,91.91 L350.00,91.78 L351.00,91.65 L352.00,91.52 L353.00,91.39 L354.00,91.26 L355.00,91.13 L356.00,91.00 L357.00,90.88 L358.00,90.75 L359.00,90.63 L360.00,90.50 L361.00,90.38 L362.00,90.26 L363.00,90.13 L364.00,90.01 L365.00,89.89 L366.00,89.77 L367.00,89.65 L368.00,89.54 L369.00,89.42 L370.00,89.30 L371.00,89.18 L372.00,89.07 L373.00,88.95 L374.00,88.84 L375.00,88.72 L376.00,88.61 L377.00,88.50 L378.00,88.39 L379.00,88.27 L380.00,88.16 L381.00,88.05 L382.00,87.94 L383.00,87.83 L384.00,87.73 L385.00,87.62 L386.00,87.54 L387.00,87.45 L388.00,87.37 L389.00,87.29 L390.00,87.21 L391.00,87.13 L392.00,87.05 L393.00,86.97 L394.00,86.89 L395.00,86.82 L396.00,86.74 L397.00,86.66 L398.00,86.59 L399.00,86.51 L400.00,86.44 L401.00,86.36 L402.00,86.29 L403.00,86.21 L404.00,86.14 L405.00,86.07 L406.00,86.00 L407.00,85.93 L408.00,85.86 L409.00,85.78 L410.00,85.71 L411.00,85.65 L412.00,85.58 L413.00,85.51 L414.00,85.44 L415.00,85.37 L416.00,85.30 L417.00,85.24 L418.00,85.17 L419.00,85.11 L420.00,85.04 L421.00,84.98 L422.00,84.91 L423.00,84.85 L424.00,84.78 L425.00,84.72 L426.00,84.66 L427.00,84.60 L428.00,84.53 L429.00,84.47 L430.00,84.41 L431.00,84.35 L432.00,84.29 L433.00,84.23 L434.00,84.17 L435.00,84.11 L436.00,84.05 L437.00,83.99 L438.00,83.94 L439.00,83.88 L440.00,83.82 L441.00,83.77 L442.00,83.71 L443.00,83.65 L444.00,83.60 L445.00,83.54 L446.00,83.49 L447.00,83.43 L448.00,83.38 L449.00,83.32 L450.00,83.27 L451.00,83.22 L452.00,83.17 L453.00,83.11 L454.00,83.06 L455.00,83.01 L456.00,82.96 L457.00,82.91 L458.00,82.86 L459.00,82.81 L460.00,82.76 L461.00,82.71 L462.00,82.66 L463.00,82.58 L464.00,82.51 L465.00,82.44 L466.00,82.37" stroke="#ff7070" stroke-width="1.1" fill="none" stroke-dasharray="3.2 1.4 1 1.4"/>
<path d="M90.00,259.24 L91.00,256.43 L92.00,253.70 L93.00,251.05 L94.00,248.47 L95.00,245.96 L96.00,243.52 L97.00,241.14 L98.00,238.82 L99.00,236.57 L100.00,234.37 L101.00,232.22 L102.00,230.13 L103.00,228.10 L104.00,226.11 L105.00,224.17 L106.00,222.28 L107.00,220.43 L108.00,218.62 L109.00,216.86 L110.00,215.14 L111.00,213.45 L112.00,211.81 L113.00,210.20 L114.00,208.62 L115.00,207.08 L116.00,205.58 L117.00,204.10 L118.00,202.66 L119.00,201.25 L120.00,199.86 L121.00,198.51 L122.00,197.18 L123.00,195.88 L124.00,194.61 L125.00,193.36 L126.00,192.14 L127.00,190.94 L128.00,189.76 L129.00,188.60 L130.00,187.47 L131.00,186.36 L132.00,185.27 L133.00,184.20 L134.00,183.15 L135.00,182.12 L136.00,181.11 L137.00,180.12 L138.00,179.14 L139.00,178.18 L140.00,177.24 L141.00,176.31 L142.00,175.40 L143.00,174.51 L144.00,173.63 L145.00,172.77 L146.00,171.92 L147.00,171.09 L148.00,170.27 L149.00,169.46 L150.00,168.66 L151.00,167.88 L152.00,167.12 L153.00,166.36 L154.00,165.61 L155.00,164.88 L156.00,164.16 L157.00,163.45 L158.00,162.75 L159.00,162.07 L160.00,161.39 L161.00,160.72 L162.00,160.07 L163.00,159.42 L164.00,158.78 L165.00,158.15 L166.00,157.54 L167.00,156.93 L168.00,156.33 L169.00,155.73 L170.00,155.15 L171.00,154.58 L172.00,154.01 L173.00,153.45 L174.00,152.90 L175.00,152.36 L176.00,151.82 L177.00,151.29 L178.00,150.77 L179.00,150.26 L180.00,149.75 L181.00,149.25 L182.00,148.76 L183.00,148.28 L184.00,147.80 L185.00,147.32 L186.00,146.85 L187.00,146.39 L188.00,145.94 L189.00,145.49 L190.00,145.05 L191.00,144.61 L192.00,144.18 L193.00,143.75 L194.00,143.33 L195.00,142.91 L196.00,142.50 L197.00,142.10 L198.00,141.70 L199.00,141.30 L200.00,140.91 L201.00,140.55 L202.00,140.19 L203.00,139.83 L204.00,139.48 L205.00,139.13 L206.00,138.78 L207.00,138.44 L208.00,138.10 L209.00,137.76 L210.00,137.43 L211.00,137.10 L212.00,136.77 L213.00,136.44 L214.00,136.12 L215.00,135.79 L216.00,135.47 L217.00,135.16 L218.00,134.84 L219.00,134.53 L220.00,134.22 L221.00,133.91 L222.00,133.60 L223.00,133.30 L224.00,133.00 L225.00,132.69 L226.00,132.40 L227.00,132.10 L228.00,131.80 L229.00,131.51 L230.00,131.21 L231.00,130.92 L232.00,130.63 L233.00,130.34 L234.00,130.06 L235.00,129.77 L236.00,129.49 L237.00,129.20 L238.00,128.92 L239.00,128.64 L240.00,128.36 L241.00,128.08 L242.00,127.80 L243.00,127.53 L244.00,127.25 L245.00,126.98 L246.00,126.70 L247.00,126.43 L248.00,126.16 L249.00,125.89 L250.00,125.62 L251.00,125.35 L252.00,125.09 L253.00,124.83 L254.00,124.57 L255.00,124.31 L256.00,124.05 L257.00,123.80 L258.00,123.54 L259.00,123.29 L260.00,123.03 L261.00,122.80 L262.00,122.56 L263.00,122.33 L264.00,122.10 L265.00,121.87 L266.00,121.64 L267.00,121.42 L268.00,121.19 L269.00,120.97 L270.00,120.75 L271.00,120.53 L272.00,120.32 L273.00,120.10 L274.00,119.89 L275.00,119.68 L276.00,119.47 L277.00,119.26 L278.00,119.06 L279.00,118.85 L280.00,118.65 L281.00,118.45 L282.00,118.25 L283.00,118.05 L284.00,117.85 L285.00,117.66 L286.00,117.46 L287.00,117.27 L288.00,117.08 L289.00,116.89 L290.00,116.70 L291.00,116.52 L292.00,116.33 L293.00,116.15 L294.00,115.96 L295.00,115.78 L296.00,115.60 L297.00,115.43 L298.00,115.25 L299.00,115.07 L300.00,114.90 L301.00,114.73 L302.00,114.56 L303.00,114.39 L304.00,114.22 L305.00,114.05 L306.00,113.88 L307.00,113.72 L308.00,113.55 L309.00,113.39 L310.00,113.23 L311.00,113.07 L312.00,112.91 L313.00,112.75 L314.00,112.60 L315.00,112.44 L316.00,112.28 L317.00,112.13 L318.00,111.98 L319.00,111.83 L320.00,111.68 L321.00,111.54 L322.00,111.41 L323.00,111.28 L324.00,111.14 L325.00,111.01 L326.00,110.88 L327.00,110.76 L328.00,110.63 L329.00,110.50 L330.00,110.38 L331.00,110.25 L332.00,110.13 L333.00,110.01 L334.00,109.88 L335.00,109.76 L336.00,109.64 L337.00,109.53 L338.00,109.41 L339.00,109.29 L340.00,109.18 L341.00,109.06 L342.00,108.95 L343.00,108.83 L344.00,108.72 L345.00,108.61 L346.00,108.50 L347.00,108.39 L348.00,108.28 L349.00,108.17 L350.00,108.07 L351.00,107.96 L352.00,107.86 L353.00,107.75 L354.00,107.65 L355.00,107.55 L356.00,107.45 L357.00,107.35 L358.00,107.25 L359.00,107.15 L360.00,107.05 L361.00,106.95 L362.00,106.85 L363.00,106.76 L364.00,106.66 L365.00,106.57 L366.00,106.47 L367.00,106.38 L368.00,106.29 L369.00,106.20 L370.00,106.11 L371.00,106.02 L372.00,105.93 L373.00,105.84 L374.00,105.75 L375.00,105.67 L376.00,105.58 L377.00,105.50 L378.00,105.41 L379.00,105.33 L380.00,105.24 L381.00,105.16 L382.00,105.08 L383.00,105.00 L384.00,104.92 L385.00,104.84 L386.00,104.76 L387.00,104.68 L388.00,104.60 L389.00,104.53 L390.00,104.45 L391.00,104.38 L392.00,104.30 L393.00,104.23 L394.00,104.15 L395.00,104.08 L396.00,104.01 L397.00,103.93 L398.00,103.86 L399.00,103.79 L400.00,103.72 L401.00,103.63 L402.00,103.54 L403.00,103.45 L404.00,103.36 L405.00,103.27 L406.00,103.18 L407.00,103.09 L408.00,103.01 L409.00,102.92 L410.00,102.83 L411.00,102.75 L412.00,102.66 L413.00,102.58 L414.00,102.49 L415.00,102.41 L416.00,102.33 L417.00,102.25 L418.00,102.16 L419.00,102.08 L420.00,102.00 L421.00,101.92 L422.00,101.84 L423.00,101.76 L424.00,101.68 L425.00,101.61 L426.00,101.53 L427.00,101.45 L428.00,101.38 L429.00,101.30 L430.00,101.23 L431.00,101.15 L432.00,101.08 L433.00,101.00 L434.00,100.93 L435.00,100.86 L436.00,100.79 L437.00,100.71 L438.00,100.64 L439.00,100.57 L440.00,100.50 L441.00,100.43 L442.00,100.36 L443.00,100.29 L444.00,100.23 L445.00,100.16 L446.00,100.09 L447.00,100.02 L448.00,99.96 L449.00,99.89 L450.00,99.83 L451.00,99.76 L452.00,99.70 L453.00,99.63 L454.00,99.57 L455.00,99.51 L456.00,99.44 L457.00,99.38 L458.00,99.32 L459.00,99.26 L460.00,99.20 L461.00,99.14 L462.00,99.08 L463.00,99.02 L464.00,98.96 L465.00,98.90 L466.00,98.84" stroke="#8080ff" stroke-width="1.0" fill="none" stroke-dasharray="3.2 1.4 1 1.4"/>
<path d="M94.00,257.06 L95.00,254.20 L96.00,251.43 L97.00,248.75 L98.00,246.16 L99.00,243.64 L100.00,241.20 L101.00,238.83 L102.00,236.54 L103.00,234.31 L104.00,232.14 L105.00,230.03 L106.00,227.98 L107.00,225.99 L108.00,224.05 L109.00,222.16 L110.00,220.32 L111.00,218.53 L112.00,216.78 L113.00,215.08 L114.00,213.41 L115.00,211.79 L116.00,210.21 L117.00,208.66 L118.00,207.15 L119.00,205.68 L120.00,204.24 L121.00,202.83 L122.00,201.45 L123.00,200.10 L124.00,198.78 L125.00,197.49 L126.00,196.22 L127.00,194.98 L128.00,193.77 L129.00,192.58 L130.00,191.42 L131.00,190.27 L132.00,189.15 L133.00,188.05 L134.00,186.98 L135.00,185.92 L136.00,184.88 L137.00,183.86 L138.00,182.86 L139.00,181.88 L140.00,180.91 L141.00,179.97 L142.00,179.03 L143.00,178.12 L144.00,177.22 L145.00,176.33 L146.00,175.46 L147.00,174.61 L148.00,173.76 L149.00,172.94 L150.00,172.12 L151.00,171.32 L152.00,170.53 L153.00,169.75 L154.00,168.98 L155.00,168.23 L156.00,167.49 L157.00,166.75 L158.00,166.03 L159.00,165.32 L160.00,164.62 L161.00,163.93 L162.00,163.25 L163.00,162.58 L164.00,161.92 L165.00,161.27 L166.00,160.62 L167.00,159.99 L168.00,159.36 L169.00,158.75 L170.00,158.14 L171.00,157.53 L172.00,156.94 L173.00,156.35 L174.00,155.78 L175.00,155.21 L176.00,154.64 L177.00,154.08 L178.00,153.53 L179.00,152.99 L180.00,152.45 L181.00,151.92 L182.00,151.40 L183.00,150.88 L184.00,150.37 L185.00,149.87 L186.00,149.37 L187.00,148.87 L188.00,148.39 L189.00,147.90 L190.00,147.43 L191.00,146.95 L192.00,146.49 L193.00,146.03 L194.00,145.57 L195.00,145.12 L196.00,144.67 L197.00,144.23 L198.00,143.80 L199.00,143.37 L200.00,142.94 L201.00,142.52 L202.00,142.10 L203.00,141.68 L204.00,141.27 L205.00,140.87 L206.00,140.47 L207.00,140.07 L208.00,139.68 L209.00,139.29 L210.00,138.90 L211.00,138.52 L212.00,138.14 L213.00,137.77 L214.00,137.40 L215.00,137.03 L216.00,136.67 L217.00,136.31 L218.00,135.95 L219.00,135.60 L220.00,135.25 L221.00,134.90 L222.00,134.56 L223.00,134.22 L224.00,133.89 L225.00,133.55 L226.00,133.22 L227.00,132.89 L228.00,132.57 L229.00,132.25 L230.00,131.93 L231.00,131.61 L232.00,131.30 L233.00,130.99 L234.00,130.68 L235.00,130.38 L236.00,130.08 L237.00,129.78 L238.00,129.48 L239.00,129.19 L240.00,128.89 L241.00,128.61 L242.00,128.32 L243.00,128.03 L244.00,127.75 L245.00,127.47 L246.00,127.20 L247.00,126.92 L248.00,126.65 L249.00,126.38 L250.00,126.11 L251.00,125.84 L252.00,125.58 L253.00,125.32 L254.00,125.06 L255.00,124.80 L256.00,124.55 L257.00,124.29 L258.00,124.04 L259.00,123.79 L260.00,123.55 L261.00,123.30 L262.00,123.06 L263.00,122.82 L264.00,122.58 L265.00,122.34 L266.00,122.10 L267.00,121.87 L268.00,121.64 L269.00,121.41 L270.00,121.18 L271.00,120.95 L272.00,120.73 L273.00,120.51 L274.00,120.28 L275.00,120.06 L276.00,119.85 L277.00,119.63 L278.00,119.42 L279.00,119.20 L280.00,118.99 L281.00,118.78 L282.00,118.57 L283.00,118.36 L284.00,118.16 L285.00,117.96 L286.00,117.75 L287.00,117.55 L288.00,117.35 L289.00,117.16 L290.00,116.96 L291.00,116.76 L292.00,116.57 L293.00,116.38 L294.00,116.19 L295.00,116.00 L296.00,115.81 L297.00,115.62 L298.00,115.44 L299.00,115.25 L300.00,115.07 L301.00,114.89 L302.00,114.71 L303.00,114.53 L304.00,114.35 L305.00,114.18 L306.00,114.00 L307.00,113.83 L308.00,113.66 L309.00,113.49 L310.00,113.32 L311.00,113.15 L312.00,112.98 L313.00,112.81 L314.00,112.65 L315.00,112.48 L316.00,112.32 L317.00,112.16 L318.00,112.00 L319.00,111.84 L320.00,111.68 L321.00,111.52 L322.00,111.36 L323.00,111.21 L324.00,111.05 L325.00,110.90 L326.00,110.75 L327.00,110.60 L328.00,110.45 L329.00,110.30 L330.00,110.15 L331.00,110.00 L332.00,109.86 L333.00,109.71 L334.00,109.57 L335.00,109.43 L336.00,109.28 L337.00,109.14 L338.00,109.00 L339.00,108.86 L340.00,108.73 L341.00,108.59 L342.00,108.45 L343.00,108.32 L344.00,108.18 L345.00,108.05 L346.00,107.92 L347.00,107.78 L348.00,107.65 L349.00,107.52 L350.00,107.39 L351.00,107.26 L352.00,107.14 L353.00,107.01 L354.00,106.88 L355.00,106.76 L356.00,106.64 L357.00,106.51 L358.00,106.39 L359.00,106.27 L360.00,106.15 L361.00,106.03 L362.00,105.91 L363.00,105.79 L364.00,105.67 L365.00,105.56 L366.00,105.44 L367.00,105.32 L368.00,105.21 L369.00,105.10 L370.00,104.98 L371.00,104.87 L372.00,104.76 L373.00,104.65 L374.00,104.54 L375.00,104.43 L376.00,104.32 L377.00,104.21 L378.00,104.11 L379.00,104.00 L380.00,103.89 L381.00,103.79 L382.00,103.69 L383.00,103.58 L384.00,103.48 L385.00,103.38 L386.00,103.27 L387.00,103.17 L388.00,103.07 L389.00,102.97 L390.00,102.88 L391.00,102.78 L392.00,102.68 L393.00,102.58 L394.00,102.49 L395.00,102.39 L396.00,102.30 L397.00,102.20 L398.00,102.11 L399.00,102.02 L400.00,101.92 L401.00,101.83 L402.00,101.74 L403.00,101.65 L404.00,101.56 L405.00,101.47 L406.00,101.38 L407.00,101.29 L408.00,101.21 L409.00,101.12 L410.00,101.03 L411.00,100.95 L412.00,100.86 L413.00,100.78 L414.00,100.69 L415.00,100.61 L416.00,100.53 L417.00,100.45 L418.00,100.36 L419.00,100.28 L420.00,100.20 L421.00,100.12 L422.00,100.04 L423.00,99.96 L424.00,99.88 L425.00,99.81 L426.00,99.73 L427.00,99.65 L428.00,99.58 L429.00,99.50 L430.00,99.43 L431.00,99.35 L432.00,99.28 L433.00,99.20 L434.00,99.13 L435.00,99.06 L436.00,98.99 L437.00,98.91 L438.00,98.84 L439.00,98.77 L440.00,98.70 L441.00,98.63 L442.00,98.56 L443.00,98.49 L444.00,98.43 L445.00,98.36 L446.00,98.29 L447.00,98.22 L448.00,98.16 L449.00,98.09 L450.00,98.03 L451.00,97.96 L452.00,97.90 L453.00,97.83 L454.00,97.77 L455.00,97.71 L456.00,97.64 L457.00,97.58 L458.00,97.52 L459.00,97.46 L460.00,97.40 L461.00,97.34 L462.00,97.28 L463.00,97.22 L464.00,97.16 L465.00,97.10 L466.00,97.04" stroke="#ff00ff" stroke-width="2.0" fill="none"/>
<path d="M86.00,259.19 L87.00,256.13 L88.00,253.16 L89.00,250.27 L90.00,247.46 L91.00,244.73 L92.00,242.08 L93.00,239.49 L94.00,236.98 L95.00,234.52 L96.00,232.14 L97.00,229.81 L98.00,227.54 L99.00,225.32 L100.00,223.16 L101.00,221.06 L102.00,219.00 L103.00,216.99 L104.00,215.03 L105.00,213.11 L106.00,211.23 L107.00,209.40 L108.00,207.61 L109.00,205.86 L110.00,204.15 L111.00,202.47 L112.00,200.83 L113.00,199.22 L114.00,197.65 L115.00,196.11 L116.00,194.60 L117.00,193.12 L118.00,191.67 L119.00,190.25 L120.00,188.86 L121.00,187.49 L122.00,186.15 L123.00,184.84 L124.00,183.55 L125.00,182.28 L126.00,181.04 L127.00,179.82 L128.00,178.62 L129.00,177.45 L130.00,176.29 L131.00,175.16 L132.00,174.05 L133.00,172.95 L134.00,171.88 L135.00,170.82 L136.00,169.78 L137.00,168.76 L138.00,167.75 L139.00,166.76 L140.00,165.79 L141.00,164.83 L142.00,163.89 L143.00,162.97 L144.00,162.05 L145.00,161.16 L146.00,160.27 L147.00,159.40 L148.00,158.55 L149.00,157.71 L150.00,156.87 L151.00,156.06 L152.00,155.25 L153.00,154.46 L154.00,153.68 L155.00,152.90 L156.00,152.14 L157.00,151.40 L158.00,150.66 L159.00,149.93 L160.00,149.21 L161.00,148.51 L162.00,147.81 L163.00,147.12 L164.00,146.44 L165.00,145.77 L166.00,145.11 L167.00,144.46 L168.00,143.82 L169.00,143.18 L170.00,142.56 L171.00,141.94 L172.00,141.33 L173.00,140.73 L174.00,140.13 L175.00,139.55 L176.00,138.97 L177.00,138.40 L178.00,137.83 L179.00,137.27 L180.00,136.72 L181.00,136.18 L182.00,135.64 L183.00,135.11 L184.00,134.58 L185.00,134.06 L186.00,133.55 L187.00,133.05 L188.00,132.55 L189.00,132.05 L190.00,131.56 L191.00,131.08 L192.00,130.60 L193.00,130.13 L194.00,129.66 L195.00,129.20 L196.00,128.74 L197.00,128.29 L198.00,127.85 L199.00,127.41 L200.00,126.97 L201.00,126.54 L202.00,126.11 L203.00,125.69 L204.00,125.27 L205.00,124.86 L206.00,124.45 L207.00,124.04 L208.00,123.64 L209.00,123.24 L210.00,122.85 L211.00,122.46 L212.00,122.08 L213.00,121.70 L214.00,121.32 L215.00,120.95 L216.00,120.58 L217.00,120.22 L218.00,119.85 L219.00,119.50 L220.00,119.14 L221.00,118.79 L222.00,118.44 L223.00,118.10 L224.00,117.76 L225.00,117.42 L226.00,117.09 L227.00,116.75 L228.00,116.43 L229.00,116.10 L230.00,115.78 L231.00,115.46 L232.00,115.14 L233.00,114.83 L234.00,114.52 L235.00,114.21 L236.00,113.91 L237.00,113.61 L238.00,113.31 L239.00,113.01 L240.00,112.72 L241.00,112.43 L242.00,112.14 L243.00,111.85 L244.00,111.57 L245.00,111.29 L246.00,111.01 L247.00,110.74 L248.00,110.46 L249.00,110.19 L250.00,109.92 L251.00,109.66 L252.00,109.39 L253.00,109.13 L254.00,108.87 L255.00,108.61 L256.00,108.36 L257.00,108.10 L258.00,107.85 L259.00,107.60 L260.00,107.35 L261.00,107.11 L262.00,106.87 L263.00,106.62 L264.00,106.39 L265.00,106.15 L266.00,105.91 L267.00,105.68 L268.00,105.45 L269.00,105.22 L270.00,104.99 L271.00,104.76 L272.00,104.54 L273.00,104.32 L274.00,104.10 L275.00,103.88 L276.00,103.66 L277.00,103.44 L278.00,103.23 L279.00,103.02 L280.00,102.81 L281.00,102.60 L282.00,102.39 L283.00,102.18 L284.00,101.98 L285.00,101.77 L286.00,101.57 L287.00,101.37 L288.00,101.17 L289.00,100.98 L290.00,100.78 L291.00,100.59 L292.00,100.39 L293.00,100.20 L294.00,100.01 L295.00,99.82 L296.00,99.63 L297.00,99.45 L298.00,99.26 L299.00,99.08 L300.00,98.90 L301.00,98.72 L302.00,98.54 L303.00,98.36 L304.00,98.18 L305.00,98.01 L306.00,97.83 L307.00,97.66 L308.00,97.48 L309.00,97.31 L310.00,97.14 L311.00,96.97 L312.00,96.81 L313.00,96.64 L314.00,96.47 L315.00,96.31 L316.00,96.15 L317.00,95.99 L318.00,95.82 L319.00,95.66 L320.00,95.50 L321.00,95.35 L322.00,95.19 L323.00,95.03 L324.00,94.88 L325.00,94.73 L326.00,94.57 L327.00,94.42 L328.00,94.27 L329.00,94.12 L330.00,93.97 L331.00,93.82 L332.00,93.68 L333.00,93.53 L334.00,93.38 L335.00,93.24 L336.00,93.10 L337.00,92.95 L338.00,92.81 L339.00,92.67 L340.00,92.53 L341.00,92.39 L342.00,92.25 L343.00,92.12 L344.00,91.98 L345.00,91.84 L346.00,91.71 L347.00,91.58 L348.00,91.44 L349.00,91.31 L350.00,91.18 L351.00,91.05 L352.00,90.92 L353.00,90.79 L354.00,90.66 L355.00,90.53 L356.00,90.40 L357.00,90.28 L358.00,90.15 L359.00,90.03 L360.00,89.90 L361.00,89.78 L362.00,89.66 L363.00,89.53 L364.00,89.41 L365.00,89.29 L366.00,89.17 L367.00,89.05 L368.00,88.94 L369.00,88.82 L370.00,88.70 L371.00,88.58 L372.00,88.47 L373.00,88.35 L374.00,88.24 L375.00,88.12 L376.00,88.01 L377.00,87.90 L378.00,87.79 L379.00,87.67 L380.00,87.56 L381.00,87.45 L382.00,87.34 L383.00,87.23 L384.00,87.13 L385.00,87.02 L386.00,86.91 L387.00,86.80 L388.00,86.70 L389.00,86.59 L390.00,86.49 L391.00,86.38 L392.00,86.28 L393.00,86.18 L394.00,86.07 L395.00,85.97 L396.00,85.87 L397.00,85.77 L398.00,85.67 L399.00,85.57 L400.00,85.47 L401.00,85.37 L402.00,85.27 L403.00,85.17 L404.00,85.07 L405.00,84.98 L406.00,84.88 L407.00,84.78 L408.00,84.69 L409.00,84.59 L410.00,84.50 L411.00,84.40 L412.00,84.31 L413.00,84.22 L414.00,84.12 L415.00,84.03 L416.00,83.94 L417.00,83.85 L418.00,83.76 L419.00,83.67 L420.00,83.58 L421.00,83.49 L422.00,83.40 L423.00,83.31 L424.00,83.22 L425.00,83.13 L426.00,83.05 L427.00,82.96 L428.00,82.87 L429.00,82.79 L430.00,82.70 L431.00,82.61 L432.00,82.53 L433.00,82.45 L434.00,82.36 L435.00,82.28 L436.00,82.19 L437.00,82.11 L438.00,82.03 L439.00,81.95 L440.00,81.86 L441.00,81.78 L442.00,81.70 L443.00,81.62 L444.00,81.54 L445.00,81.46 L446.00,81.38 L447.00,81.30 L448.00,81.22 L449.00,81.15 L450.00,81.07 L451.00,80.99 L452.00,80.91 L453.00,80.84 L454.00,80.76 L455.00,80.68 L456.00,80.61 L457.00,80.53 L458.00,80.46 L459.00,80.38 L460.00,80.31 L461.00,80.23 L462.00,80.16 L463.00,80.08 L464.00,80.01 L465.00,79.94 L466.00,79.87" stroke="#0000ff" stroke-width="2.0" fill="none"/>
<path d="M77.00,259.98 L78.00,256.10 L79.00,252.34 L80.00,248.71 L81.00,245.19 L82.00,241.78 L83.00,238.47 L84.00,235.27 L85.00,232.16 L86.00,229.14 L87.00,226.21 L88.00,223.36 L89.00,220.60 L90.00,217.91 L91.00,215.29 L92.00,212.75 L93.00,210.27 L94.00,207.86 L95.00,205.51 L96.00,203.22 L97.00,200.99 L98.00,198.81 L99.00,196.69 L100.00,194.62 L101.00,192.60 L102.00,190.63 L103.00,188.70 L104.00,186.82 L105.00,184.98 L106.00,183.19 L107.00,181.43 L108.00,179.71 L109.00,178.04 L110.00,176.39 L111.00,174.79 L112.00,173.21 L113.00,171.67 L114.00,170.16 L115.00,168.69 L116.00,167.24 L117.00,165.82 L118.00,164.43 L119.00,163.07 L120.00,161.74 L121.00,160.43 L122.00,159.14 L123.00,157.88 L124.00,156.65 L125.00,155.43 L126.00,154.24 L127.00,153.07 L128.00,151.93 L129.00,150.80 L130.00,149.69 L131.00,148.60 L132.00,147.54 L133.00,146.49 L134.00,145.45 L135.00,144.44 L136.00,143.44 L137.00,142.46 L138.00,141.50 L139.00,140.55 L140.00,139.62 L141.00,138.70 L142.00,137.80 L143.00,136.91 L144.00,136.04 L145.00,135.18 L146.00,134.33 L147.00,133.49 L148.00,132.67 L149.00,131.87 L150.00,131.07 L151.00,130.28 L152.00,129.51 L153.00,128.75 L154.00,128.00 L155.00,127.26 L156.00,126.53 L157.00,125.81 L158.00,125.11 L159.00,124.41 L160.00,123.72 L161.00,123.04 L162.00,122.37 L163.00,121.71 L164.00,121.06 L165.00,120.42 L166.00,119.78 L167.00,119.16 L168.00,118.54 L169.00,117.93 L170.00,117.33 L171.00,116.74 L172.00,116.16 L173.00,115.58 L174.00,115.01 L175.00,114.45 L176.00,113.89 L177.00,113.34 L178.00,112.80 L179.00,112.26 L180.00,111.73 L181.00,111.21 L182.00,110.70 L183.00,110.19 L184.00,109.68 L185.00,109.18 L186.00,108.69 L187.00,108.21 L188.00,107.73 L189.00,107.25 L190.00,106.78 L191.00,106.32 L192.00,105.86 L193.00,105.41 L194.00,104.96 L195.00,104.52 L196.00,104.08 L197.00,103.64 L198.00,103.22 L199.00,102.79 L200.00,102.37 L201.00,101.96 L202.00,101.55 L203.00,101.14 L204.00,100.74 L205.00,100.35 L206.00,99.95 L207.00,99.56 L208.00,99.18 L209.00,98.80 L210.00,98.42 L211.00,98.05 L212.00,97.68 L213.00,97.31 L214.00,96.95 L215.00,96.60 L216.00,96.24 L217.00,95.89 L218.00,95.54 L219.00,95.20 L220.00,94.86 L221.00,94.52 L222.00,94.19 L223.00,93.86 L224.00,93.53 L225.00,93.21 L226.00,92.88 L227.00,92.57 L228.00,92.25 L229.00,91.94 L230.00,91.63 L231.00,91.32 L232.00,91.02 L233.00,90.72 L234.00,90.42 L235.00,90.13 L236.00,89.83 L237.00,89.55 L238.00,89.26 L239.00,88.97 L240.00,88.69 L241.00,88.41 L242.00,88.13 L243.00,87.86 L244.00,87.59 L245.00,87.32 L246.00,87.05 L247.00,86.79 L248.00,86.52 L249.00,86.26 L250.00,86.00 L251.00,85.75 L252.00,85.49 L253.00,85.24 L254.00,84.99 L255.00,84.74 L256.00,84.50 L257.00,84.26 L258.00,84.01 L259.00,83.77 L260.00,83.54 L261.00,83.30 L262.00,83.07 L263.00,82.84 L264.00,82.61 L265.00,82.38 L266.00,82.15 L267.00,81.93 L268.00,81.71 L269.00,81.48 L270.00,81.27 L271.00,81.05 L272.00,80.83 L273.00,80.62 L274.00,80.41 L275.00,80.20 L276.00,79.99 L277.00,79.78 L278.00,79.57 L279.00,79.37 L280.00,79.17 L281.00,78.96 L282.00,78.76 L283.00,78.57 L284.00,78.37 L285.00,78.17 L286.00,77.98 L287.00,77.79 L288.00,77.60 L289.00,77.41 L290.00,77.22 L291.00,77.03 L292.00,76.85 L293.00,76.66 L294.00,76.48 L295.00,76.30 L296.00,76.12 L297.00,75.94 L298.00,75.76 L299.00,75.58 L300.00,75.41 L301.00,75.24 L302.00,75.06 L303.00,74.89 L304.00,74.72 L305.00,74.55 L306.00,74.38 L307.00,74.22 L308.00,74.05 L309.00,73.89 L310.00,73.72 L311.00,73.56 L312.00,73.40 L313.00,73.24 L314.00,73.08 L315.00,72.92 L316.00,72.76 L317.00,72.61 L318.00,72.45 L319.00,72.30 L320.00,72.15 L321.00,71.99 L322.00,71.84 L323.00,71.69 L324.00,71.55 L325.00,71.40 L326.00,71.25 L327.00,71.10 L328.00,70.96 L329.00,70.81 L330.00,70.67 L331.00,70.53 L332.00,70.39 L333.00,70.25 L334.00,70.11 L335.00,69.97 L336.00,69.83 L337.00,69.69 L338.00,69.56 L339.00,69.42 L340.00,69.29 L341.00,69.15 L342.00,69.02 L343.00,68.89 L344.00,68.76 L345.00,68.63 L346.00,68.50 L347.00,68.37 L348.00,68.24 L349.00,68.11 L350.00,67.98 L351.00,67.86 L352.00,67.73 L353.00,67.61 L354.00,67.48 L355.00,67.36 L356.00,67.24 L357.00,67.12 L358.00,67.00 L359.00,66.88 L360.00,66.76 L361.00,66.64 L362.00,66.52 L363.00,66.40 L364.00,66.29 L365.00,66.17 L366.00,66.06 L367.00,65.94 L368.00,65.83 L369.00,65.71 L370.00,65.60 L371.00,65.49 L372.00,65.38 L373.00,65.27 L374.00,65.15 L375.00,65.05 L376.00,64.94 L377.00,64.83 L378.00,64.72 L379.00,64.61 L380.00,64.51 L381.00,64.40 L382.00,64.29 L383.00,64.19 L384.00,64.08 L385.00,63.98 L386.00,63.88 L387.00,63.77 L388.00,63.67 L389.00,63.57 L390.00,63.47 L391.00,63.37 L392.00,63.27 L393.00,63.17 L394.00,63.07 L395.00,62.97 L396.00,62.87 L397.00,62.78 L398.00,62.68 L399.00,62.58 L400.00,62.49 L401.00,62.39 L402.00,62.30 L403.00,62.20 L404.00,62.11 L405.00,62.01 L406.00,61.92 L407.00,61.83 L408.00,61.74 L409.00,61.64 L410.00,61.55 L411.00,61.46 L412.00,61.37 L413.00,61.28 L414.00,61.19 L415.00,61.10 L416.00,61.02 L417.00,60.93 L418.00,60.84 L419.00,60.75 L420.00,60.67 L421.00,60.58 L422.00,60.49 L423.00,60.41 L424.00,60.32 L425.00,60.24 L426.00,60.16 L427.00,60.07 L428.00,59.99 L429.00,59.90 L430.00,59.82 L431.00,59.74 L432.00,59.66 L433.00,59.58 L434.00,59.50 L435.00,59.42 L436.00,59.33 L437.00,59.25 L438.00,59.18 L439.00,59.10 L440.00,59.02 L441.00,58.94 L442.00,58.86 L443.00,58.78 L444.00,58.71 L445.00,58.63 L446.00,58.55 L447.00,58.48 L448.00,58.40 L449.00,58.32 L450.00,58.25 L451.00,58.17 L452.00,58.10 L453.00,58.03 L454.00,57.95 L455.00,57.88 L456.00,57.80 L457.00,57.73 L458.00,57.66 L459.00,57.59 L460.00,57.52 L461.00,57.44 L462.00,57.37 L463.00,57.30 L464.00,57.23 L465.00,57.16 L466.00,57.09" stroke="#ff0000" stroke-width="2.0" fill="none"/>
<path d="M63.00,255.69 L64.00,249.50 L65.00,243.62 L66.00,238.03 L67.00,232.71 L68.00,227.64 L69.00,222.80 L70.00,218.18 L71.00,213.75 L72.00,209.52 L73.00,205.46 L74.00,201.56 L75.00,197.82 L76.00,194.22 L77.00,190.76 L78.00,187.43 L79.00,184.22 L80.00,181.12 L81.00,178.13 L82.00,175.25 L83.00,172.46 L84.00,169.76 L85.00,167.15 L86.00,164.62 L87.00,162.17 L88.00,159.79 L89.00,157.49 L90.00,155.25 L91.00,153.08 L92.00,150.97 L93.00,148.92 L94.00,146.92 L95.00,144.98 L96.00,143.09 L97.00,141.25 L98.00,139.45 L99.00,137.70 L100.00,136.00 L101.00,134.33 L102.00,132.71 L103.00,131.12 L104.00,129.58 L105.00,128.06 L106.00,126.59 L107.00,125.14 L108.00,123.73 L109.00,122.35 L110.00,120.99 L111.00,119.67 L112.00,118.37 L113.00,117.10 L114.00,115.86 L115.00,114.64 L116.00,113.45 L117.00,112.28 L118.00,111.13 L119.00,110.00 L120.00,108.90 L121.00,107.81 L122.00,106.75 L123.00,105.70 L124.00,104.68 L125.00,103.67 L126.00,102.68 L127.00,101.71 L128.00,100.75 L129.00,99.81 L130.00,98.89 L131.00,97.98 L132.00,97.09 L133.00,96.21 L134.00,95.34 L135.00,94.49 L136.00,93.65 L137.00,92.83 L138.00,92.02 L139.00,91.22 L140.00,90.43 L141.00,89.66 L142.00,88.89 L143.00,88.14 L144.00,87.40 L145.00,86.67 L146.00,85.95 L147.00,85.24 L148.00,84.54 L149.00,83.85 L150.00,83.17 L151.00,82.50 L152.00,81.84 L153.00,81.19 L154.00,80.54 L155.00,79.91 L156.00,79.28 L157.00,78.66 L158.00,78.05 L159.00,77.45 L160.00,76.85 L161.00,76.27 L162.00,75.69 L163.00,75.11 L164.00,74.55 L165.00,73.99 L166.00,73.44 L167.00,72.89 L168.00,72.35 L169.00,71.82 L170.00,71.30 L171.00,70.78 L172.00,70.26 L173.00,69.76 L174.00,69.26 L175.00,68.76 L176.00,68.27 L177.00,67.79 L178.00,67.31 L179.00,66.83 L180.00,66.37 L181.00,65.90 L182.00,65.45 L183.00,64.99 L184.00,64.54 L185.00,64.10 L186.00,63.66 L187.00,63.23 L188.00,62.80 L189.00,62.38 L190.00,61.96 L191.00,61.54 L192.00,61.13 L193.00,60.72 L194.00,60.32 L195.00,59.92 L196.00,59.53 L197.00,59.14 L198.00,58.75 L199.00,58.37 L200.00,57.99 L201.00,57.61 L202.00,57.24 L203.00,56.87 L204.00,56.51 L205.00,56.15 L206.00,55.79 L207.00,55.44 L208.00,55.09 L209.00,54.74 L210.00,54.40 L211.00,54.06 L212.00,53.72 L213.00,53.39 L214.00,53.06 L215.00,52.73 L216.00,52.40 L217.00,52.08 L218.00,51.76 L219.00,51.45 L220.00,51.13 L221.00,50.82 L222.00,50.52 L223.00,50.21 L224.00,49.91 L225.00,49.61 L226.00,49.32 L227.00,49.02 L228.00,48.73 L229.00,48.44 L230.00,48.16 L231.00,47.87 L232.00,47.59 L233.00,47.31 L234.00,47.04 L235.00,46.76 L236.00,46.49 L237.00,46.22 L238.00,45.96 L239.00,45.69 L240.00,45.43 L241.00,45.17 L242.00,44.91 L243.00,44.65 L244.00,44.40 L245.00,44.15 L246.00,43.90 L247.00,43.65 L248.00,43.41 L249.00,43.16 L250.00,42.92 L251.00,42.68 L252.00,42.45 L253.00,42.21 L254.00,41.98 L255.00,41.75 L256.00,41.52 L257.00,41.29 L258.00,41.06 L259.00,40.84 L260.00,40.62 L261.00,40.40 L262.00,40.18 L263.00,39.96 L264.00,39.74 L265.00,39.53 L266.00,39.32 L267.00,39.11 L268.00,38.90 L269.00,38.69 L270.00,38.49 L271.00,38.28 L272.00,38.08 L273.00,37.88 L274.00,37.68 L275.00,37.48 L276.00,37.29 L277.00,37.09 L278.00,36.90 L279.00,36.71 L280.00,36.52 L281.00,36.33 L282.00,36.14 L283.00,35.96 L284.00,35.77 L285.00,35.59 L286.00,35.41 L287.00,35.23 L288.00,35.05 L289.00,34.87 L290.00,34.70 L291.00,34.52 L292.00,34.35 L293.00,34.18 L294.00,34.01 L295.00,33.84 L296.00,33.67 L297.00,33.50 L298.00,33.34 L299.00,33.17 L300.00,33.01 L301.00,32.85 L302.00,32.69 L303.00,32.53 L304.00,32.37 L305.00,32.21 L306.00,32.05 L307.00,31.90 L308.00,31.75 L309.00,31.59 L310.00,31.44 L311.00,31.29 L312.00,31.14 L313.00,30.99 L314.00,30.85 L315.00,30.70 L316.00,30.55 L317.00,30.41 L318.00,30.27 L319.00,30.13 L320.00,29.99 L321.00,29.85 L322.00,29.71 L323.00,29.57 L324.00,29.43 L325.00,29.30 L326.00,29.16 L327.00,29.03 L328.00,28.89 L329.00,28.76 L330.00,28.63 L331.00,28.50 L332.00,28.37 L333.00,28.24 L334.00,28.12 L335.00,27.99 L336.00,27.87 L337.00,27.74 L338.00,27.62 L339.00,27.50 L340.00,27.37 L341.00,27.25 L342.00,27.13 L343.00,27.01 L344.00,26.90 L345.00,26.78 L346.00,26.66 L347.00,26.55 L348.00,26.43 L349.00,26.32 L350.00,26.20 L351.00,26.09 L352.00,25.98 L353.00,25.87 L354.00,25.76 L355.00,25.65 L356.00,25.54 L357.00,25.43 L358.00,25.33 L359.00,25.22 L360.00,25.11 L361.00,25.01 L362.00,24.91 L363.00,24.80 L364.00,24.70 L365.00,24.60 L366.00,24.50 L367.00,24.40 L368.00,24.30 L369.00,24.20 L370.00,24.10 L371.00,24.00 L372.00,23.91 L373.00,23.81 L374.00,23.72 L375.00,23.62 L376.00,23.53 L377.00,23.44 L378.00,23.34 L379.00,23.25 L380.00,23.16 L381.00,23.07 L382.00,22.98 L383.00,22.89 L384.00,22.80 L385.00,22.72 L386.00,22.63 L387.00,22.54 L388.00,22.46 L389.00,22.37 L390.00,22.29 L391.00,22.20 L392.00,22.12 L393.00,22.04 L394.00,21.95 L395.00,21.87 L396.00,21.79 L397.00,21.71 L398.00,21.63 L399.00,21.55 L400.00,21.47 L401.00,21.40 L402.00,21.32 L403.00,21.24 L404.00,21.17 L405.00,21.09 L406.00,21.02 L407.00,20.94 L408.00,20.87 L409.00,20.79 L410.00,20.72 L411.00,20.65 L412.00,20.58 L413.00,20.51 L414.00,20.43 L415.00,20.36 L416.00,20.30 L417.00,20.23 L418.00,20.16 L419.00,20.09 L420.00,20.02 L421.00,19.96 L422.00,19.89 L423.00,19.82 L424.00,19.76 L425.00,19.69 L426.00,19.63 L427.00,19.57 L428.00,19.50 L429.00,19.44 L430.00,19.38 L431.00,19.32 L432.00,19.25 L433.00,19.19 L434.00,19.13 L435.00,19.07 L436.00,19.01 L437.00,18.95 L438.00,18.90 L439.00,18.84 L440.00,18.78 L441.00,18.72 L442.00,18.67 L443.00,18.61 L444.00,18.56 L445.00,18.50 L446.00,18.45 L447.00,18.39 L448.00,18.34 L449.00,18.28 L450.00,18.23 L451.00,18.18 L452.00,18.13 L453.00,18.07 L454.00,18.02 L455.00,17.97 L456.00,17.92 L457.00,17.87 L458.00,17.82 L459.00,17.77 L460.00,17.73 L461.00,17.68 L462.00,17.63 L463.00,17.58 L464.00,17.54 L465.00,17.49 L466.00,17.44" stroke="#000000" stroke-width="2.0" fill="none"/>
</g>
<path d="M107.44,210 v-5 M107.44,9 v5 M196.73,210 v-5 M196.73,9 v5 M286.02,210 v-5 M286.02,9 v5 M375.31,210 v-5 M375.31,9 v5 M63,194.87 h3 M464,194.87 h-3 M63,186.02 h3 M464,186.02 h-3 M63,179.75 h3 M464,179.75 h-3 M63,174.88 h3 M464,174.88 h-3 M63,170.90 h3 M464,170.90 h-3 M63,167.53 h3 M464,167.53 h-3 M63,164.62 h3 M464,164.62 h-3 M63,162.05 h3 M464,162.05 h-3 M63,159.75 h5 M464,159.75 h-5 M63,144.62 h3 M464,144.62 h-3 M63,135.77 h3 M464,135.77 h-3 M63,129.50 h3 M464,129.50 h-3 M63,124.63 h3 M464,124.63 h-3 M63,120.65 h3 M464,120.65 h-3 M63,117.28 h3 M464,117.28 h-3 M63,114.37 h3 M464,114.37 h-3 M63,111.80 h3 M464,111.80 h-3 M63,109.50 h5 M464,109.50 h-5 M63,94.37 h3 M464,94.37 h-3 M63,85.52 h3 M464,85.52 h-3 M63,79.25 h3 M464,79.25 h-3 M63,74.38 h3 M464,74.38 h-3 M63,70.40 h3 M464,70.40 h-3 M63,67.03 h3 M464,67.03 h-3 M63,64.12 h3 M464,64.12 h-3 M63,61.55 h3 M464,61.55 h-3 M63,59.25 h5 M464,59.25 h-5 M63,44.12 h3 M464,44.12 h-3 M63,35.27 h3 M464,35.27 h-3 M63,29.00 h3 M464,29.00 h-3 M63,24.13 h3 M464,24.13 h-3 M63,20.15 h3 M464,20.15 h-3 M63,16.78 h3 M464,16.78 h-3 M63,13.87 h3 M464,13.87 h-3 M63,11.30 h3 M464,11.30 h-3" stroke="#1e1e1e" stroke-width="1.7" fill="none"/>
<rect x="63" y="9" width="401" height="201" fill="none" stroke="#1e1e1e" stroke-width="2"/>
<!-- legend -->
<g stroke-width="2">
<path d="M407.5,141 H435" stroke="#000"/>
<path d="M407.5,158 H435" stroke="#f00"/>
<path d="M407.5,175 H435" stroke="#00f"/>
<path d="M407.5,192 H435" stroke="#f0f"/>
</g>
<path class="t" transform="translate(29.76,16.60) scale(0.01430,-0.01430)" d="M271 0L359 0L359 703L288 703C276 649 257 618 221 598C188 580 150 574 101 573L101 508L271 508Z" style="stroke-width:17.5px"/><text class="t" x="37.72" y="16.60" font-size="14.3">0</text><text class="t" x="46.97" y="9.20" font-size="11.0">-8</text>
<path class="t" transform="translate(29.76,66.85) scale(0.01430,-0.01430)" d="M271 0L359 0L359 703L288 703C276 649 257 618 221 598C188 580 150 574 101 573L101 508L271 508Z" style="stroke-width:17.5px"/><text class="t" x="37.72" y="66.85" font-size="14.3">0</text><text class="t" x="46.97" y="59.45" font-size="11.0">-9</text>
<path class="t" transform="translate(23.65,117.10) scale(0.01430,-0.01430)" d="M271 0L359 0L359 703L288 703C276 649 257 618 221 598C188 580 150 574 101 573L101 508L271 508Z" style="stroke-width:17.5px"/><text class="t" x="31.60" y="117.10" font-size="14.3">0</text><text class="t" x="40.85" y="109.70" font-size="11.0">-</text><path class="t" transform="translate(44.51,109.70) scale(0.01100,-0.01100)" d="M271 0L359 0L359 703L288 703C276 649 257 618 221 598C188 580 150 574 101 573L101 508L271 508Z" style="stroke-width:22.7px"/><text class="t" x="50.63" y="109.70" font-size="11.0">0</text>
<path class="t" transform="translate(23.65,167.35) scale(0.01430,-0.01430)" d="M271 0L359 0L359 703L288 703C276 649 257 618 221 598C188 580 150 574 101 573L101 508L271 508Z" style="stroke-width:17.5px"/><text class="t" x="31.60" y="167.35" font-size="14.3">0</text><text class="t" x="40.85" y="159.95" font-size="11.0">-</text><path class="t" transform="translate(44.51,159.95) scale(0.01100,-0.01100)" d="M271 0L359 0L359 703L288 703C276 649 257 618 221 598C188 580 150 574 101 573L101 508L271 508Z" style="stroke-width:22.7px"/><path class="t" transform="translate(50.63,159.95) scale(0.01100,-0.01100)" d="M271 0L359 0L359 703L288 703C276 649 257 618 221 598C188 580 150 574 101 573L101 508L271 508Z" style="stroke-width:22.7px"/>
<path class="t" transform="translate(23.65,217.60) scale(0.01430,-0.01430)" d="M271 0L359 0L359 703L288 703C276 649 257 618 221 598C188 580 150 574 101 573L101 508L271 508Z" style="stroke-width:17.5px"/><text class="t" x="31.60" y="217.60" font-size="14.3">0</text><text class="t" x="40.85" y="210.20" font-size="11.0">-</text><path class="t" transform="translate(44.51,210.20) scale(0.01100,-0.01100)" d="M271 0L359 0L359 703L288 703C276 649 257 618 221 598C188 580 150 574 101 573L101 508L271 508Z" style="stroke-width:22.7px"/><text class="t" x="50.63" y="210.20" font-size="11.0">2</text>
<text class="t" x="103.47" y="228.20" font-size="14.3">2</text>
<text class="t" x="192.76" y="228.20" font-size="14.3">4</text>
<text class="t" x="282.05" y="228.20" font-size="14.3">6</text>
<text class="t" x="371.33" y="228.20" font-size="14.3">8</text>
<path class="t" transform="translate(456.65,228.20) scale(0.01430,-0.01430)" d="M271 0L359 0L359 703L288 703C276 649 257 618 221 598C188 580 150 574 101 573L101 508L271 508Z" style="stroke-width:17.5px"/><text class="t" x="464.60" y="228.20" font-size="14.3">0</text>
<path d="M431.9,245.3 L438.1,251.5 M431.9,251.5 L438.1,245.3" stroke="#333" stroke-width="0.85" fill="none"/><path class="t" transform="translate(440.90,251.60) scale(0.01430,-0.01430)" d="M271 0L359 0L359 703L288 703C276 649 257 618 221 598C188 580 150 574 101 573L101 508L271 508Z" style="stroke-width:17.5px"/><text class="t" x="448.85" y="251.60" font-size="14.3">0</text><text class="t" x="457.4" y="243.90" font-size="11.0">4</text>
<text class="s" transform="translate(243.18,247.20) scale(1.14,1)" font-size="15.7">T</text><text class="s" transform="translate(259.91,247.20) scale(1.0,1)" font-size="15.7">(</text><text class="s" transform="translate(264.59,247.20) scale(1.12,1)" font-size="15.7">K</text><text class="s" transform="translate(279.29,247.20) scale(1.0,1)" font-size="15.7">)</text>
<text class="s" transform="rotate(-90) translate(-149.42,14.40) scale(1.0,1)" font-size="15.7" font-style="italic">q</text><text class="s" transform="rotate(-90) translate(-134.69,14.40) scale(1.0,1)" font-size="15.7">(</text><text class="s" transform="rotate(-90) translate(-128.50,14.40) scale(1.0,1)" font-size="15.7">cm</text><text class="s" transform="rotate(-90) translate(-109.00,8.00) scale(1.0,1)" font-size="10.5">3</text><text class="s" transform="rotate(-90) translate(-97.24,14.40) scale(1.0,1)" font-size="15.7">s</text><path d="M5.3,89.2 V82.4" stroke="#1a1a1a" stroke-width="0.75"/><text class="s" transform="rotate(-90) translate(-81.42,8.00) scale(1.0,1)" font-size="10.5">1</text><text class="s" transform="rotate(-90) translate(-74.91,14.40) scale(1.0,1)" font-size="15.7">)</text>
<text class="t" x="437.25" y="145.10" font-size="12.9">2p</text>
<text class="t" x="437.41" y="162.10" font-size="12.9">3p</text>
<text class="t" x="437.60" y="179.10" font-size="12.9">4p</text>
<text class="t" x="437.38" y="196.10" font-size="12.9">5p</text>
</svg>
</body></html>
